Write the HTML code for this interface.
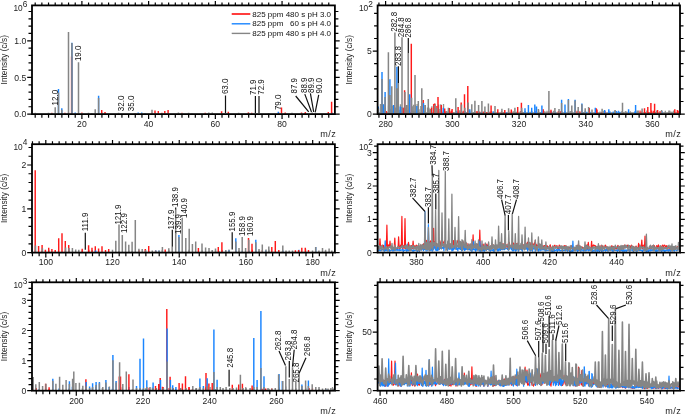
<!DOCTYPE html><html><head><meta charset="utf-8"><style>html,body{margin:0;padding:0;background:#fff;}svg{display:block;will-change:transform}text{font-family:"Liberation Sans", sans-serif;font-size:8.6px;fill:#222}text.pl{font-size:8.5px;fill:#111}text.lg{font-size:8px;fill:#111}</style></head><body>
<svg width="685" height="416" viewBox="0 0 685 416">
<rect width="685" height="416" fill="#fff"/>
<path d="M51.88 113.5V112.84M68.56 113.5V112.54M81.9 113.5V112.44M151.96 113.5V112.8M181.98 113.5V112.7M278.72 113.5V112.18M305.41 113.5V112.01" stroke="#ff1a1a" stroke-width="1.3" fill="none" opacity="0.9"/>
<path d="M58.55 113.5V112.72M332.1 113.5V112.42" stroke="#1a85ff" stroke-width="1.3" fill="none" opacity="0.9"/>
<path d="M35.2 113.5V112.76M101.92 113.5V112.56M105.25 113.5V112.86M155.29 113.5V112.7M191.99 113.5V112.98M228.68 113.5V112.82M248.7 113.5V112.57M312.08 113.5V112.34M315.42 113.5V112.17" stroke="#858585" stroke-width="1.3" fill="none" opacity="0.9"/>
<path d="M64.9 113.5V112.8M71.6 113.5V56.6M101.7 113.5V110.1M105 113.5V112.1M155 113.5V110.6M158.3 113.5V110.9M161.9 113.5V112.7M164.8 113.5V110.9M168.1 113.5V110.1M221.6 113.5V111.3M228.3 113.5V111.8M281.5 113.5V107.4M285.2 113.5V112.5M328.3 113.5V112M331.6 113.5V101.8M205.2 113.5V112.8M248.3 113.5V112.6M251.7 113.5V112.8M301.5 113.5V112.6M304.9 113.5V112.8" stroke="#ff1a1a" stroke-width="1.45" fill="none"/>
<path d="M58.5 113.5V89.1M61.8 113.5V108.2M71.9 113.5V42.8M98.6 113.5V95.8M278.3 113.5V111.8M138.2 113.5V112.5M141.7 113.5V112.5M145 113.5V112.9M75.2 113.5V112.6" stroke="#1a85ff" stroke-width="1.45" fill="none"/>
<path d="M55.2 113.5V107.2M58.5 113.5V92.4M61.8 113.5V109.7M68.5 113.5V32M71.9 113.5V42.9M78.5 113.5V62.3M95.2 113.5V109.2M98.6 113.5V98.1M152 113.5V109.8M178.4 113.5V112.5M208.8 113.5V112.6M212.3 113.5V112.6M48.5 113.5V112.8M51.8 113.5V112.9M88.5 113.5V112.8M91.8 113.5V112.9M118.5 113.5V112.8M135.2 113.5V112.9M188.6 113.5V112.8M238.6 113.5V112.8M268.6 113.5V112.9M292 113.5V112.8" stroke="#858585" stroke-width="1.5" fill="none"/>
<line x1="378.4" x2="679.2" y1="112.6" y2="112.6" stroke="#8a8a8a" stroke-width="1.4" opacity="0.8"/>
<path d="M383.41 113.5V111.89M386.54 113.5V111.12M395.24 113.5V111.27M396.79 113.5V112M418.43 113.5V111.86M423.06 113.5V111.96M434.9 113.5V111.61M440.14 113.5V111.15M445.21 113.5V111.15M449.77 113.5V111.36M451.41 113.5V110.61M461.51 113.5V111.68M463.16 113.5V110.74M476.88 113.5V110.88M478.29 113.5V111.16M479.75 113.5V111.42M483.28 113.5V111.39M486.77 113.5V111.92M490.18 113.5V111.55M501.55 113.5V111.23M508.6 113.5V110.46M511.54 113.5V110.86M535.18 113.5V111.18M548.6 113.5V111.22M558.38 113.5V111.03M560.35 113.5V111.36M577.03 113.5V110.83M579.89 113.5V111.17M601.69 113.5V112.12M605.02 113.5V110.97M640.05 113.5V110.5M641.56 113.5V111.57M644.99 113.5V112.01M648.67 113.5V112.05M651.58 113.5V110.52M653.41 113.5V110.71M660.03 113.5V111.02M678.27 113.5V110.67" stroke="#ff1a1a" stroke-width="1.3" fill="none" opacity="0.9"/>
<path d="M385 113.5V111.45M389.65 113.5V110.37M391.84 113.5V111.02M408.08 113.5V111.63M414.96 113.5V110.69M456.71 113.5V110.78M465.08 113.5V110.89M481.42 113.5V112.08M493.34 113.5V111.3M506.48 113.5V112.2M551.45 113.5V111.26M555.24 113.5V111.58M582.01 113.5V112M585.2 113.5V110.66M586.6 113.5V111.81M590 113.5V111.86M609.95 113.5V111.33M613.24 113.5V111.51M616.63 113.5V111.1M618.52 113.5V110.76M619.86 113.5V111.76M634.86 113.5V111.3M662 113.5V111.06" stroke="#1a85ff" stroke-width="1.3" fill="none" opacity="0.9"/>
<path d="M388.3 113.5V112.1M392.99 113.5V110.75M398.45 113.5V111.75M399.74 113.5V112.13M401.63 113.5V111.18M403.48 113.5V111.25M404.93 113.5V112.01M406.61 113.5V111.68M411.9 113.5V110.89M413.38 113.5V111.28M421.72 113.5V110.41M424.79 113.5V110.77M428.22 113.5V110.36M430.24 113.5V110.46M431.49 113.5V110.34M436.36 113.5V110.59M438.08 113.5V111.71M441.86 113.5V111.74M443.41 113.5V110.73M446.66 113.5V111.05M448.38 113.5V110.79M453.58 113.5V112.17M458.18 113.5V111.65M459.71 113.5V110.31M466.8 113.5V112.13M468.06 113.5V111.4M469.76 113.5V110.64M473.4 113.5V112.05M474.72 113.5V111.01M484.79 113.5V111.05M491.66 113.5V110.98M503.41 113.5V112.05M513.38 113.5V111.13M515.19 113.5V112.1M516.56 113.5V111.66M520.34 113.5V111.07M521.67 113.5V110.58M523.19 113.5V111.98M525.17 113.5V111.07M528.28 113.5V112.13M530.26 113.5V111.75M531.82 113.5V111.07M538.65 113.5V110.33M540.29 113.5V112.02M541.54 113.5V111.76M543.58 113.5V110.66M544.91 113.5V111.13M547.01 113.5V110.69M550.17 113.5V111.22M553.55 113.5V110.63M561.71 113.5V111.03M565.1 113.5V111.22M568.5 113.5V110.88M570.29 113.5V111.05M571.77 113.5V111.04M574.92 113.5V110.89M578.34 113.5V111.02M583.32 113.5V112.07M595.25 113.5V112.1M596.92 113.5V112.08M600.03 113.5V111.57M603.72 113.5V110.65M614.9 113.5V110.48M621.96 113.5V111.12M623.36 113.5V111.91M625.42 113.5V111.05M626.68 113.5V111.48M630.42 113.5V111.32M637.06 113.5V110.54M638.35 113.5V110.45M646.81 113.5V110.56M649.93 113.5V111.96M655.28 113.5V112.02M656.58 113.5V110.61M665.32 113.5V110.84M668.59 113.5V111.63M669.98 113.5V110.68M671.97 113.5V111.49M673.66 113.5V110.39" stroke="#858585" stroke-width="1.3" fill="none" opacity="0.9"/>
<path d="M393.96 113.5V104.94M408.94 113.5V108.41M433.61 113.5V103.97M436.8 113.5V106.05" stroke="#ff1a1a" stroke-width="1.3" fill="none" opacity="0.9"/>
<path d="M378.46 113.5V108.06M401.78 113.5V106.92M423.62 113.5V105.12" stroke="#1a85ff" stroke-width="1.3" fill="none" opacity="0.9"/>
<path d="M380.47 113.5V103.91M381.81 113.5V103.99M383.58 113.5V104.37M385.39 113.5V107.54M388.52 113.5V105.53M390.22 113.5V109.21M392.18 113.5V106.11M395.44 113.5V107.6M396.94 113.5V108.39M399 113.5V109.63M400.42 113.5V104.33M404.12 113.5V107.51M405.55 113.5V107.66M407.14 113.5V110.11M412.29 113.5V106.2M413.52 113.5V104.68M415.29 113.5V104.41M417.12 113.5V104.06M419.12 113.5V109.23M420.81 113.5V106.01M425.11 113.5V105.34M427.53 113.5V107.46M428.98 113.5V107.82M430.81 113.5V108.96M431.86 113.5V106.29M435.11 113.5V103.87M438.65 113.5V104.54M440.8 113.5V104.36M443.53 113.5V104.1" stroke="#858585" stroke-width="1.3" fill="none" opacity="0.9"/>
<path d="M403 113.5V107.8M404.6 113.5V90.3M411.3 113.5V43.7M423.2 113.5V100.1M431.5 113.5V107.8M434.6 113.5V103.4M438 113.5V97M441.3 113.5V105.1M444.7 113.5V108.5M449.4 113.5V108M452.1 113.5V109M458.1 113.5V106.9M461.2 113.5V102.4M464.5 113.5V94.3M467.8 113.5V86M491.1 113.5V105.5M497.8 113.5V109.2M504.8 113.5V110.1M511.3 113.5V109.5M517.7 113.5V107.1M521.4 113.5V102.8M543.2 113.5V109.2M551 113.5V109.8M589.2 113.5V108M596.2 113.5V108.2M597 113.5V109.6M644.5 113.5V108.2M647.8 113.5V107.1M650.9 113.5V103.1M654.6 113.5V103.8M657.6 113.5V110M674.8 113.5V109.2M677.4 113.5V110" stroke="#ff1a1a" stroke-width="1.45" fill="none"/>
<path d="M378.3 113.5V106.5M382 113.5V71.9M383.3 113.5V104.4M385.1 113.5V92.1M389.9 113.5V79.3M393.4 113.5V105.1M396.9 113.5V66.7M400.2 113.5V106.5M409.7 113.5V94.3M416.9 113.5V106M423.5 113.5V103.1M443.3 113.5V107.8M469.8 113.5V109.2M525 113.5V108.2M528.4 113.5V105.1M531.7 113.5V107.8M534.8 113.5V104.4M536.5 113.5V106.5M541.9 113.5V105.5M561.6 113.5V99.7M565 113.5V104.4M568.4 113.5V99.1M575.1 113.5V99.7M581.9 113.5V103.4M595.3 113.5V107.8M604.7 113.5V110M608.8 113.5V109.2M628.6 113.5V109.2M635.6 113.5V105.1" stroke="#1a85ff" stroke-width="1.45" fill="none"/>
<path d="M378.3 113.5V108.5M382 113.5V78.9M385.1 113.5V97M388.4 113.5V52.2M389.9 113.5V95M391.8 113.5V86.3M394.9 113.5V32.6M396.9 113.5V88.3M398.3 113.5V83M402 113.5V37.2M404.9 113.5V92M406.6 113.5V105M408.2 113.5V53.2M411.6 113.5V97.7M415 113.5V75.1M418.3 113.5V101.1M421.8 113.5V88.3M425.2 113.5V105.1M428.3 113.5V99.1M430.2 113.5V109.2M434.9 113.5V105M436.7 113.5V108M440 113.5V109M448.4 113.5V107.8M455.8 113.5V98.3M461.5 113.5V104.4M464.8 113.5V107.8M468.1 113.5V102.4M471.8 113.5V104.2M474.9 113.5V100.8M478.6 113.5V105.1M481.9 113.5V101.1M484.9 113.5V106.5M488.4 113.5V103.5M495 113.5V106.1M501.9 113.5V108.8M508.6 113.5V108.2M514.9 113.5V107.8M521.7 113.5V107.8M538.4 113.5V109M548.9 113.5V91M554.9 113.5V108.1M559 113.5V109M561.6 113.5V103.1M568.4 113.5V100.1M571.8 113.5V105.5M575.1 113.5V100.4M578.2 113.5V106.9M581.9 113.5V104.2M585.2 113.5V108.2M588.6 113.5V106.9M592 113.5V109.5M602.1 113.5V108.8M615.1 113.5V110M622.5 113.5V102.8M642.1 113.5V108.5M661.6 113.5V110M669 113.5V110.5" stroke="#858585" stroke-width="1.5" fill="none"/>
<path d="M42.13 252V250.76M88.83 252V249.83M138.87 252V249.94M155.55 252V250.4M235.62 252V250.71M252.3 252V249.68M262.31 252V249.94" stroke="#ff1a1a" stroke-width="1.3" fill="none" opacity="0.9"/>
<path d="M95.51 252V250.38M158.89 252V250.42M225.61 252V250.39M242.29 252V250.75M248.96 252V250.48M265.64 252V250.13M299 252V249.84" stroke="#1a85ff" stroke-width="1.3" fill="none" opacity="0.9"/>
<path d="M35.46 252V250.05M45.47 252V250.21M48.8 252V249.73M65.48 252V250.39M68.82 252V250.21M82.16 252V250.17M92.17 252V249.95M118.86 252V250.95M128.87 252V250.36M132.2 252V250.98M145.55 252V249.57M148.88 252V250.97M162.23 252V249.97M168.9 252V250.28M188.91 252V249.86M202.26 252V250.37M212.27 252V250.2M215.6 252V250.61M218.94 252V250.94M222.27 252V249.98M228.95 252V249.54M238.95 252V250.55M255.63 252V250.76M258.97 252V250.46M268.98 252V249.73M282.32 252V250.89M305.67 252V249.57M325.69 252V249.76" stroke="#858585" stroke-width="1.3" fill="none" opacity="0.9"/>
<path d="M35.2 252V170.2M38.6 252V245.9M42.1 252V244.9M45.4 252V249.8M48.7 252V247.8M51.9 252V249.1M55.2 252V250.1M58.7 252V238.2M62 252V233.2M65.3 252V241.1M68.7 252V245M82.2 252V248.8M88.6 252V245.2M92 252V247.8M95.3 252V246.2M98.6 252V248.6M102 252V246.2M105.5 252V250.1M108.7 252V249.1M145.3 252V249.1M148.7 252V245.9M165.2 252V249.5M198.4 252V248.1M218.3 252V247M221.9 252V242.2M248.5 252V237.9M252 252V243.8M271.8 252V247M275.3 252V241.1M278.8 252V250M295.4 252V250.2M298.6 252V250M301.8 252V247.8M305.3 252V247.8M308.5 252V250" stroke="#ff1a1a" stroke-width="1.45" fill="none"/>
<path d="M155.7 252V250.5M178.9 252V235M229 252V250.2M235.8 252V238.2M255.8 252V239.8M315.7 252V247M95.6 252V250.5M282.8 252V250.5" stroke="#1a85ff" stroke-width="1.45" fill="none"/>
<path d="M35.5 252V245.5M42.4 252V248.3M65.6 252V247.6M69 252V248M72.4 252V248M75.7 252V249.5M78.8 252V249.8M112.5 252V249.8M115.8 252V240.8M119 252V224.5M122.3 252V235.1M125.6 252V241.4M128.8 252V244.7M132.1 252V241.8M135.3 252V219.9M138.9 252V248.8M142.2 252V249.1M152.3 252V250.5M159.1 252V250.5M162.4 252V246.9M168.8 252V248.2M172.2 252V246.8M175.7 252V209.2M178.9 252V237M182.2 252V218M185.8 252V238M189.2 252V228.8M192.4 252V244M195.7 252V241.6M202 252V243.4M205.6 252V247.6M209 252V248.1M212.3 252V250M215.5 252V248.5M225.8 252V250M235.8 252V241.4M239 252V248.1M242.2 252V236.9M245.6 252V248.1M248.8 252V239.8M255.8 252V242.2M259 252V249.1M262.3 252V244.6M266 252V249.5M268.8 252V246.5M282.8 252V245.4M286 252V250.5M289.2 252V250.5M312.5 252V250.5M315.7 252V247M318.9 252V250.5M322.5 252V248.1M325.4 252V250.5M329.1 252V248.6M331.8 252V250.5M145.6 252V250.3M155.7 252V250.6M292.5 252V250.6M229 252V250.6" stroke="#858585" stroke-width="1.5" fill="none"/>
<path d="M35.6 390.1V387.69M48.94 390.1V389.28M122.34 390.1V387.19M149.02 390.1V387.83M155.7 390.1V388.85M159.03 390.1V389.45M162.37 390.1V386.67M169.04 390.1V387.97M182.38 390.1V387.73M185.72 390.1V389.17M189.06 390.1V387.26M192.39 390.1V389.11M205.74 390.1V387.13M252.44 390.1V388.41M262.45 390.1V389.27M309.15 390.1V387.96M312.49 390.1V388.36" stroke="#ff1a1a" stroke-width="1.3" fill="none" opacity="0.9"/>
<path d="M38.94 390.1V389.25M58.95 390.1V388.38M72.3 390.1V386.77M108.99 390.1V387.11M112.33 390.1V388.74M129.01 390.1V387.03M142.35 390.1V389.4M325.83 390.1V389.01" stroke="#1a85ff" stroke-width="1.3" fill="none" opacity="0.9"/>
<path d="M45.61 390.1V387.33M68.96 390.1V388.52M82.3 390.1V388.22M92.31 390.1V387.79M95.65 390.1V386.63M102.32 390.1V387.91M132.34 390.1V389.19M145.69 390.1V388.36M152.36 390.1V387.49M175.71 390.1V388.82M195.73 390.1V388.2M199.06 390.1V388.46M215.74 390.1V388.9M232.42 390.1V389.37M245.77 390.1V386.88M269.12 390.1V388.85M279.13 390.1V387.49M285.8 390.1V386.58M292.47 390.1V388.32M295.81 390.1V388.07M305.82 390.1V387.64M319.16 390.1V388.83M332.5 390.1V387.03" stroke="#858585" stroke-width="1.3" fill="none" opacity="0.9"/>
<path d="M45.6 390.1V383.8M49.1 390.1V387.3M85.9 390.1V379.2M119.3 390.1V376.5M120.5 390.1V376.5M128.9 390.1V374.2M155.5 390.1V385.9M158.7 390.1V384.1M160.2 390.1V377.9M163.1 390.1V387M166.8 390.1V308.9M170.1 390.1V376.8M179.1 390.1V383M182.4 390.1V383.5M185.5 390.1V376.3M189 390.1V387M206 390.1V373M208.9 390.1V383.5M212.2 390.1V383M232.3 390.1V384.7M238.7 390.1V384.5M242.4 390.1V383.8M252.1 390.1V385.6M36.2 390.1V388M261.7 390.1V388.5M265.7 390.1V388.5M271.7 390.1V388.5" stroke="#ff1a1a" stroke-width="1.45" fill="none"/>
<path d="M52.8 390.1V378.8M69.4 390.1V381.2M86.2 390.1V382M89.6 390.1V386.4M92.6 390.1V383.3M96.1 390.1V382M105.9 390.1V380M112.9 390.1V354.9M116.1 390.1V381M136.5 390.1V385.9M140 390.1V358.8M143.5 390.1V338.4M146.8 390.1V380.3M153.1 390.1V382.4M160.5 390.1V380M167.1 390.1V328.6M170.4 390.1V380M172.7 390.1V385.3M175.9 390.1V387M199.9 390.1V378.6M203.4 390.1V386M207.2 390.1V378.3M213.9 390.1V329.5M217.1 390.1V379.8M253.8 390.1V338M257.1 390.1V380M260.9 390.1V311M264 390.1V376.3M279 390.1V374M282.3 390.1V380.9M301.9 390.1V384.6M308.4 390.1V380.6M99.4 390.1V382" stroke="#1a85ff" stroke-width="1.45" fill="none"/>
<path d="M33.2 390.1V377M35.8 390.1V384.2M39.3 390.1V382M42.6 390.1V386.1M45.9 390.1V383.8M52.8 390.1V380.8M55.9 390.1V383.8M59.6 390.1V376.7M62.8 390.1V384.8M66.1 390.1V380M69.4 390.1V384M72.6 390.1V378.8M73.8 390.1V371.4M75.9 390.1V383M79.4 390.1V382.7M82.8 390.1V385.8M99.4 390.1V383.3M102.8 390.1V387M105.9 390.1V382.4M109.4 390.1V386.5M112.9 390.1V360.2M116.1 390.1V382.4M119.6 390.1V362.3M122.8 390.1V384.1M126.3 390.1V371.6M133 390.1V379.5M150 390.1V387M167.1 390.1V361.5M192.8 390.1V385.9M199.9 390.1V387M213.9 390.1V372.1M220.3 390.1V387M226.1 390.1V387M240.4 390.1V374.8M246 390.1V388M250.1 390.1V388M260.9 390.1V368M278.6 390.1V374.6M282.8 390.1V381M285.8 390.1V366.2M289.3 390.1V378.9M292.5 390.1V367.2M295.8 390.1V380.6M299.1 390.1V373.2M305.6 390.1V380.6M312.2 390.1V384.3M315.8 390.1V387M319 390.1V387M325.7 390.1V388M330.9 390.1V388M86.2 390.1V386M89.6 390.1V388M92.6 390.1V387M96.1 390.1V385M136.5 390.1V388M140 390.1V388M143.5 390.1V388M146.8 390.1V387M153.1 390.1V388M156.4 390.1V388M163.4 390.1V388M170.4 390.1V387M173.2 390.1V388M180.6 390.1V388M186 390.1V388M196.4 390.1V388M203.4 390.1V388M207.2 390.1V386M210 390.1V387M217.1 390.1V387M223 390.1V388M229.8 390.1V388M233 390.1V388M236.5 390.1V387.5M243 390.1V388M253.8 390.1V387M257.1 390.1V387M264 390.1V387M268 390.1V388M272 390.1V388.5M275.3 390.1V388M302 390.1V386M308.4 390.1V386M322.5 390.1V388.5M328 390.1V388.5M333.5 390.1V388.5" stroke="#858585" stroke-width="1.5" fill="none"/>
<path d="M378.4 246.7 L379.23 248.68 L379.44 247.69 L380 238.9 L380.56 247.25 L380.85 245.58 L381.66 247.45 L382.6 245.2 L383.04 247.33 L383.6 245.3 L384.16 247.79 L384.83 248.93 L385.86 247.55 L386.34 247.51 L386.9 225.2 L387.46 248.94 L387.87 245.6 L388.55 244.93 L389.44 247.02 L390 241.1 L390.56 247.55 L391.16 246.9 L392.04 246.72 L392.73 248.99 L393.77 248.33 L394.24 247.14 L394.8 238.1 L395.36 248.26 L395.93 248.02 L396.69 248.36 L397.43 248.82 L398.04 248.53 L398.6 236.9 L399.16 247.28 L399.84 248.92 L400.59 245.11 L401.34 247.03 L401.9 216.4 L402.46 247.86 L402.87 248.85 L403.79 245.3 L404.44 248.13 L405 218.5 L405.56 248.81 L405.7 247.15 L406.48 245.6 L407.39 245.35 L407.94 246.98 L408.5 242.3 L409.06 247.13 L409.71 248.88 L410.65 246.08 L411.64 245.68 L412.39 248.39 L412.54 247.29 L413.1 241.1 L413.66 247.36 L414.29 245.7 L414.97 248.05 L415.69 246.04 L416.29 245.18 L417.13 245.82 L417.98 246.36 L418.75 248.83 L419.55 247.21 L420.52 245.29 L421.16 248.5 L422.11 244.81 L422.76 247.36 L423.77 243.65 L424.79 247.96 L425.64 244.37 L426.14 245.57 L426.7 240.4 L427.26 247.55 L428.17 242.45 L429.12 245.3 L429.82 241.74 L430.73 240.83 L431.4 244.97 L432.37 245.43 L433.04 246.98 L433.6 228.3 L434.16 245.4 L434.41 243.99 L435 241.69 L435.74 245.05 L436.36 243.26 L437.35 248.53 L438.22 246.06 L439.06 241.33 L439.64 240.27 L440.64 246.13 L441.66 240.27 L442.52 244.24 L443.43 242.82 L444.47 240.7 L445.3 246.42 L446.29 246.42 L447.19 246.9 L448.18 243.06 L449.07 247.84 L450.05 243.61 L450.99 247.51 L451.83 245.42 L452.57 245.04 L453.42 240.63 L454.29 248.64 L455.27 246.31 L456.02 246.36 L456.86 243.76 L457.82 240.6 L458.74 240.11 L459.59 244.1 L460.26 246.02 L461.06 245.27 L462.06 242.1 L462.62 242.67 L463.51 242.14 L464.15 248 L465.03 244.51 L466.02 243.93 L466.9 243.31 L467.66 247.57 L468.66 248.13 L469.41 246.45 L470.12 244.07 L470.92 247.99 L471.88 247.3 L472.54 246.67 L473.1 234.9 L473.66 246.93 L474.23 244.63 L474.99 246.88 L475.79 245.22 L476.75 248.8 L477.53 243.99 L478.1 248.23 L478.68 247.37 L479.24 246.74 L479.8 230.2 L480.36 248.27 L481.08 246.08 L481.65 248.02 L482.33 244.5 L482.91 247.01 L483.34 247.16 L483.9 244 L484.46 247.76 L485.58 247.32 L486.24 246.29 L486.88 244 L487.67 247.49 L488.31 245.34 L489.04 247.43 L489.85 247.04 L490.77 245.99 L491.71 248.45 L492.31 248.58 L493.22 244.8 L494 247.15 L495 246.01 L495.83 248.34 L496.77 248.57 L497.55 246.84 L498.21 247.08 L499.16 246.3 L500.07 242.88 L501.06 248.56 L502.09 245.27 L503.03 243.67 L504.03 247.63 L504.75 241.91 L505.53 245.37 L506.45 244.91 L507.03 247.29 L507.62 247.22 L508.26 243.78 L509.2 242.34 L509.83 245.12 L510.74 247.52 L511.63 248.3 L512.43 248.32 L513.03 242.94 L513.84 243.45 L514.75 246.03 L515.56 247.54 L516.39 243.61 L517.13 247.55 L518.12 242.84 L519.09 248.47 L519.9 245.54 L520.56 245.27 L521.36 245.78 L521.94 248.47 L522.74 244.26 L523.69 245.47 L524.48 246.41 L525.08 245.29 L525.83 248.38 L526.84 243.29 L527.62 242.24 L528.24 248.02 L528.8 244 L529.36 246.77 L530.1 242.73 L530.95 248.18 L531.58 247.17 L532.15 243.12 L532.82 246.61 L533.53 244.45 L534.39 242.94 L534.74 246.46 L535.3 240.4 L535.86 248.44 L536.1 244.18 L536.76 245.99 L537.53 245.16 L538.29 246.15 L538.92 244.4 L539.79 246.92 L540.6 248.11 L541.45 248.18 L542.13 247.64 L543.08 248.48 L543.79 245.78 L544.79 245.5 L545.83 248.52 L546.45 245.81 L547.36 245.89 L547.97 248.3 L548.73 248.12 L549.35 246.49 L550.24 244.87 L550.9 247.67 L551.89 248.87 L552.51 246.92 L553.43 246.91 L554.32 245.59 L554.92 245.25 L555.49 247.12 L556.3 247.19 L556.93 245.58 L557.59 248.33 L558.63 248.69 L559.23 245.06 L560.25 246.74 L561.17 246.17 L561.96 246.96 L562.73 247.32 L563.29 247.74 L564.26 245.56 L565.03 247.91 L565.79 245.62 L566.43 246.95 L567 248.55 L567.94 247.76 L568.91 247.44 L569.67 247.32 L570.47 248.93 L571.42 245.88 L572.41 247.93 L573.35 248.22 L574.1 248.57 L575.08 247.72 L576.01 248.01 L576.77 247.84 L577.36 246.24 L578.15 244.84 L578.88 247.48 L579.74 245.77 L580.75 247.6 L581.47 247.57 L582.31 247.04 L583.05 249 L583.92 247.75 L584.85 248.92 L585.42 247.38 L586.33 245.88 L587.08 245.01 L587.74 248.82 L588.3 242.3 L588.86 247.62 L589.34 247.11 L590.14 248.86 L591.04 248.05 L591.6 241.4 L592.16 248.91 L592.44 247.31 L593.36 244.99 L594.37 245.47 L595.16 245.51 L595.95 247.37 L596.54 248.77 L597.3 247.01 L598.15 246.34 L598.85 247.55 L599.68 245.99 L600.58 246.04 L601.15 245.83 L601.73 245.46 L602.65 246.44 L603.64 247.94 L604.23 248.95 L605.24 245.11 L606.23 246.6 L607.02 248.89 L607.7 247 L608.71 247.84 L609.5 248.91 L610.45 247.34 L611.06 247.42 L611.84 245.66 L612.43 247.02 L613.05 246.66 L613.93 246.71 L614.61 247.25 L615.37 248.07 L616.19 248.99 L617.21 247.88 L617.88 245.28 L618.87 248.09 L619.73 246.31 L620.42 247.68 L621.25 247.29 L622.11 247.96 L622.77 245.85 L623.8 248.65 L624.78 244.97 L625.37 245.94 L626.13 247.42 L626.74 247.07 L627.33 245.16 L628.22 247.11 L629.08 246.37 L629.87 245.68 L630.6 247.93 L631.56 245.11 L632.18 248.2 L633.04 248.03 L633.7 246.58 L634.38 248.2 L635.12 247.55 L636.15 246.17 L636.98 247.93 L638.04 247.91 L638.6 243.3 L639.16 247.36 L639.7 245.13 L640.3 247.17 L641.09 247.68 L641.24 247 L641.8 240 L642.36 248.89 L643.27 245.14 L643.97 247.84 L644.44 248.58 L645 236.1 L645.56 247.71 L646.4 246.34 L647.02 247.78 L647.85 248.66 L648.86 248.64 L649.63 248.17 L650.34 246.13 L651.09 248.73 L652.08 245.84 L652.82 246.34 L653.55 246.46 L654.3 245.62 L655.13 248.15 L655.95 248.31 L656.78 245.54 L657.7 248.5 L658.4 244.89 L659.2 247.09 L660.04 248.86 L660.91 248.18 L661.5 247.1 L662.44 245.15 L663.04 247.9 L664.03 245.16 L664.89 245.4 L665.81 247.53 L666.49 245.73 L667.42 246.99 L668.34 246.46 L669.06 248.87 L669.95 246.87 L670.77 247.83 L671.67 248.64 L672.42 248.27 L673.3 248.38 L674.25 248.3 L675.24 248.82 L676.1 247 L677 248.17 L677.77 246.57 L678.4 247.91" stroke="#ff1a1a" stroke-width="1.2" fill="none" stroke-linejoin="round" opacity="1.0"/>
<path d="M378.4 249.77 L378.95 250.96 L379.34 249.02 L379.8 250.32 L380.4 250.12 L380.93 250.78 L381.47 249.24 L381.96 250.14 L382.58 249.1 L383.17 250 L383.73 249.55 L384.2 251.24 L384.64 251.04 L385.2 240.8 L385.76 250.53 L386.19 250.06 L386.67 249.22 L387.11 250.88 L387.51 250.13 L387.88 250.15 L388.47 249.65 L388.95 250.84 L389.44 249.62 L389.8 251.06 L390.44 250.59 L390.99 250.45 L391.45 250.12 L392 250.06 L392.42 249.59 L392.92 251.19 L393.42 249.05 L394.02 250.57 L394.53 249.36 L395.01 250.51 L395.59 249.17 L396.1 250.16 L396.66 249.06 L397.09 250.43 L397.63 249.08 L398.12 250.21 L398.56 249.77 L399.19 250.66 L399.83 249.27 L400.46 250.47 L400.87 250.22 L401.49 249.89 L401.92 250.25 L402.37 250.27 L402.72 249.07 L403.26 251.47 L403.91 249.82 L404.27 250.4 L404.85 250.35 L405.4 250.25 L405.9 249.78 L406.44 250.3 L406.74 251.24 L407.3 244 L407.86 250.58 L408.09 249.45 L408.72 250.71 L409.28 250.15 L409.69 250.34 L410.12 250.11 L410.68 250.09 L411.29 249.68 L411.72 250.58 L412.36 249.91 L412.9 251.37 L413.54 250.24 L414.01 250.83 L414.63 250.28 L415.15 250.44 L415.62 250.2 L416.13 249.9 L416.7 250.47 L417.29 251.33 L417.91 249.87 L418.5 250.49 L418.88 249.57 L419.32 251.39 L419.88 249.88 L420.41 249.92 L420.92 249.8 L421.39 249.81 L421.86 248.56 L422.42 249.19 L422.8 248.05 L423.36 250.65 L423.9 249.43 L424.44 249.54 L425 211.5 L425.56 249.65 L425.72 246.24 L426.16 251.01 L426.52 246.31 L426.95 247.74 L427.43 245.45 L427.84 250.69 L428.4 224.5 L428.96 248 L429.1 249.48 L429.71 245.56 L430.19 250.56 L430.79 245.44 L431.31 250.15 L431.77 247.39 L432.32 251.08 L432.84 247.42 L433.29 250.02 L433.74 246.61 L434.2 248.14 L434.59 245.39 L435.1 247.89 L435.44 250.22 L436 246.5 L436.56 250.48 L437.04 250.74 L437.49 244.91 L438.03 250.5 L438.57 247.83 L439.04 249.49 L439.47 246.14 L439.93 248.45 L440.4 247.92 L440.8 247.64 L441.23 248.65 L441.74 246.95 L442.34 248.21 L442.93 248.31 L443.5 245.64 L443.89 250.59 L444.49 245.2 L445.11 246.79 L445.55 244.29 L445.95 247.41 L446.44 247.84 L447 247 L447.56 250.72 L447.9 247.12 L448.46 246.64 L448.94 249.05 L449.49 247.83 L449.99 249.54 L450.48 247.06 L450.94 248.52 L451.45 247.43 L451.88 250.86 L452.38 248.06 L452.94 251 L453.49 246.09 L453.96 249.39 L454.54 247.98 L454.93 246.87 L455.31 244.48 L455.68 246.62 L456.1 244.61 L456.66 249.42 L457.3 248.52 L457.87 250.97 L458.23 245.11 L458.86 248.76 L459.27 247.56 L459.75 249.07 L460.19 245.15 L460.57 249.37 L461.2 248.62 L461.78 250.89 L462.24 245.48 L462.87 249.44 L463.42 244.68 L463.84 249.08 L464.44 250.53 L465 246 L465.56 249.83 L466.1 249.46 L466.5 248.14 L467.02 249.2 L467.43 247.62 L467.97 248.66 L468.48 249.64 L469.05 249.29 L469.53 247.57 L470.1 250.47 L470.5 248.9 L471.03 250.34 L471.49 248.33 L471.95 251.39 L472.4 248.84 L472.94 249.79 L473.5 241.5 L474.06 249.88 L474.26 249.94 L474.7 249.79 L475.25 248.66 L475.64 251.23 L476.2 244 L476.76 249.97 L477.1 250.11 L477.65 249.46 L478.13 248.47 L478.73 249.62 L479.24 251.07 L479.8 241 L480.36 249.81 L480.66 251.26 L481.13 248.98 L481.59 250.76 L482.16 248.5 L482.67 250.79 L483.17 249.47 L483.71 250.77 L484.16 248.71 L484.52 251.16 L485.11 248.92 L485.44 250.16 L486 245 L486.56 249.84 L487.05 249.03 L487.41 249.41 L487.8 248.83 L488.2 249.57 L488.8 249.01 L489.29 250.58 L489.92 248.56 L490.34 251.12 L490.96 250.18 L491.47 250.14 L491.88 250.15 L492.46 250.52 L493.05 248.9 L493.56 251.22 L493.94 249.62 L494.34 251.09 L494.95 249.69 L495.43 249.54 L495.93 249.17 L496.4 249.48 L497.02 248.96 L497.54 250.92 L498.16 248.46 L498.67 250.79 L499.13 249.13 L499.44 250.26 L500 247 L500.56 250.31 L501.12 248.46 L501.69 249.44 L502.28 248.01 L502.89 249.9 L503.35 246.56 L503.72 247.95 L504.08 249.11 L504.48 249.73 L504.87 249.08 L505.38 248.15 L505.97 248.69 L506.62 248.32 L507.09 247.95 L507.52 249.6 L508.08 248.28 L508.68 250.28 L509.12 248.3 L509.6 248.12 L509.95 247.81 L510.41 247.84 L510.91 247.04 L511.35 249.59 L511.87 247.46 L512.51 250.85 L512.95 248.73 L513.4 250.97 L513.76 246.68 L514.39 249.95 L514.95 246.26 L515.34 251.05 L515.71 246.15 L516.19 250.53 L516.74 249.2 L517.33 249.12 L517.95 246.67 L518.32 251.05 L518.93 247.95 L519.42 248.25 L519.84 245.75 L520.22 249.27 L520.84 248.95 L521.34 249.99 L521.83 248.38 L522.39 251.14 L523 248.01 L523.52 248.12 L524.02 247.16 L524.41 248.24 L524.89 246.15 L525.42 248.71 L526.07 248.03 L526.57 249.1 L527.04 246.24 L527.68 250.88 L528.23 247.91 L528.62 249.5 L529.02 246.7 L529.55 248.13 L529.97 248.21 L530.46 250.81 L530.86 246.01 L531.49 249.85 L532.05 247.86 L532.44 251.17 L532.94 249.16 L533.34 248.89 L533.85 247.14 L534.46 248.97 L534.83 247.06 L535.26 251.14 L535.88 248.75 L536.35 248.56 L536.95 247.37 L537.36 249.79 L537.97 247.73 L538.34 251.11 L538.69 249.29 L539.09 249.6 L539.5 248.66 L540.12 251.01 L540.64 248.03 L541.04 249.81 L541.63 250.05 L541.98 250 L542.62 248.57 L543 249.96 L543.61 248.99 L544.18 249.83 L544.73 249.02 L545.26 251.04 L545.87 249.69 L546.51 250.54 L547.15 250.49 L547.8 250.05 L548.23 250.13 L548.85 250.29 L549.43 249.78 L549.78 250.01 L550.13 249.37 L550.76 250.98 L551.37 250.49 L551.84 251.01 L552.38 250.12 L552.76 251.32 L553.16 249.72 L553.71 251.09 L554.31 249.51 L554.75 251.06 L555.12 250.42 L555.56 250.51 L556 250.16 L556.41 250.1 L556.78 249.21 L557.31 251.48 L557.66 249.75 L558.12 250.38 L558.57 249.18 L559.05 250.31 L559.42 249.22 L560.05 251.04 L560.69 250.32 L561.26 250.24 L561.65 250.6 L562.2 251.05 L562.6 250.29 L563.11 250.02 L563.52 250.57 L564.06 250.02 L564.43 250.22 L564.89 250.65 L565.28 249.29 L565.78 250.57 L566.18 249.24 L566.67 250.06 L567.03 249.77 L567.4 251.07 L567.98 250.15 L568.62 250.14 L569.09 249.67 L569.46 251.27 L569.83 250.6 L570.38 251.48 L570.75 250.45 L571.39 251.14 L571.91 250.05 L572.34 251.46 L572.9 241.1 L573.46 250.94 L573.93 250.53 L574.51 250.41 L575.07 249.38 L575.57 250.73 L576.14 249.12 L576.53 250.17 L577.07 249.28 L577.58 251.31 L578.06 249.36 L578.59 250.54 L579.07 249.29 L579.63 250.44 L580.27 249.81 L580.83 251.38 L581.47 249.03 L582.1 250.04 L582.74 250.28 L583.16 251.04 L583.68 249.73 L584.22 250.62 L584.77 250.13 L585.12 250.91 L585.68 250.41 L586.19 250.75 L586.58 249.32 L587.2 249.98 L587.82 249.2 L588.29 250.89 L588.65 249.73 L589.24 250.5 L589.64 249.1 L590.27 250.04 L590.82 250.04 L591.26 250.78 L591.81 249.34 L592.24 251.38 L592.65 249.79 L593.14 251.14 L593.74 250.24 L594.28 250.75 L594.66 249.93 L595.14 251.1 L595.6 249.2 L596.07 251.23 L596.57 250.09 L596.93 250.23 L597.36 249.79 L597.75 251.41 L598.2 249 L598.62 250.69 L599.15 250.32 L599.53 251.45 L600.14 249.84 L600.68 250.37 L601.08 249.02 L601.71 251.32 L602.2 249.98 L602.69 250.99 L603.07 250.23 L603.47 250.84 L604.01 250.38 L604.54 250.16 L605.14 249.61 L605.66 251.18 L606.3 249.17 L606.79 250.39 L607.39 249.65 L608.01 251.16 L608.49 250.24 L609.04 250.07 L609.48 249.22 L610.08 250.52 L610.52 250.17 L611.17 250.1 L611.73 249.37 L612.31 251.09 L612.89 249.95 L613.28 251.26 L613.66 249.94 L614.3 250.31 L614.8 250.1 L615.34 250.4 L615.81 250.46 L616.38 250.16 L616.93 250.38 L617.46 251.33 L617.89 249.47 L618.5 250.29 L618.89 249.24 L619.51 251.21 L619.92 250.21 L620.32 250.88 L620.68 249.94 L621.25 250.7 L621.79 249.19 L622.28 251.15 L622.74 250.21 L623.27 251.19 L623.84 249.5 L624.44 251.2 L624.92 250.17 L625.39 250.81 L625.84 249.75 L626.28 251.33 L626.81 250 L627.32 250.63 L627.72 250.05 L628.21 250.43 L628.71 249.21 L629.26 251.15 L629.72 249.26 L630.36 250.88 L630.8 249.15 L631.32 250.23 L631.94 250.16 L632.38 250.54 L632.75 249.36 L633.27 251.31 L633.75 250.56 L634.17 250.04 L634.78 249.61 L635.21 250.6 L635.74 249.36 L636.13 250.85 L636.67 249.91 L637.07 251.27 L637.55 249.88 L638.17 250.09 L638.66 249.69 L639.21 250.24 L639.63 249.37 L640.15 250.36 L640.77 250.42 L641.34 250.54 L641.94 249.93 L642.52 251.43 L642.91 250.24 L643.53 250.53 L643.98 249.05 L644.6 250.21 L644.96 249.14 L645.46 250.98 L646.08 250.08 L646.46 251.39 L647.07 250.31 L647.69 251.23 L648.25 250.25 L648.61 251.48 L648.96 249.69 L649.48 250.7 L649.93 249.83 L650.37 250.95 L650.73 249.56 L651.28 250.62 L651.63 249.75 L652.26 250.72 L652.83 249.62 L653.48 250.73 L654.07 250.02 L654.66 250.51 L655.29 250.61 L655.91 251.35 L656.37 249.55 L656.99 251.22 L657.52 249.91 L657.87 250.78 L658.24 249.86 L658.65 250.86 L659.05 249.53 L659.63 250.82 L660.02 250.6 L660.38 250.55 L660.94 249.94 L661.49 251.34 L661.87 249.83 L662.29 250.85 L662.78 250.02 L663.37 250.69 L663.85 249.9 L664.25 251.36 L664.72 249.81 L665.32 251.23 L665.97 250.15 L666.48 250.57 L667.06 250.01 L667.41 250.79 L667.96 249.58 L668.56 251.08 L669.18 249.47 L669.73 250.79 L670.18 249.48 L670.56 251.23 L670.99 249.56 L671.42 250.78 L671.91 250.41 L672.29 250.43 L672.89 250.29 L673.26 250.6 L673.91 250.59 L674.35 251.08 L674.8 249.11 L675.42 250.08 L676.07 249.73 L676.67 250.65 L677.29 250.21 L677.69 249.91 L678.1 249.99 L678.48 249.99 L678.94 249.09" stroke="#1a85ff" stroke-width="1.2" fill="none" stroke-linejoin="round" opacity="1.0"/>
<path d="M378.4 245.99 L378.96 249.69 L379.56 245.71 L379.98 247.63 L380.4 247.81 L380.79 249.1 L381.2 246.13 L381.68 250.28 L382.21 245.06 L382.65 247.63 L383.26 248.11 L383.85 250.23 L384.42 248.64 L385.01 248.05 L385.61 246.87 L386.19 249.23 L386.67 246.4 L387.15 248.27 L387.53 248.14 L388.12 250.85 L388.68 247.13 L389.26 247.58 L389.81 246.7 L390.21 247.84 L390.72 245.97 L391.21 249.39 L391.44 249.93 L392 243.5 L392.56 248.81 L393.05 247.35 L393.6 248.66 L394.07 249.82 L394.7 245.17 L395.09 250.16 L395.69 247.45 L396.09 248.65 L396.7 248.4 L397.29 247.84 L397.89 246.44 L398.46 247.59 L399.1 247.31 L399.67 247.88 L400.2 247.23 L400.73 248.44 L401.3 246.31 L401.74 247.7 L402.29 245.43 L402.71 247.33 L403.25 247.13 L403.77 247.21 L404.25 246.32 L404.63 247.08 L405.28 245.47 L405.72 248.1 L406.24 245.3 L406.74 248.47 L407.34 245.02 L407.79 248.97 L408.43 246.98 L408.92 249.63 L409.36 245.12 L409.86 250.56 L410.43 245.99 L410.99 250.32 L411.41 247.26 L411.87 248 L412.31 245.78 L412.76 247.21 L413.23 245.33 L413.81 249.37 L414.16 247.97 L414.57 248.91 L415.08 246.28 L415.52 248.73 L415.91 248.31 L416.29 250.22 L416.71 246.16 L417.18 247.19 L417.56 246.38 L418.05 250.43 L418.24 249.58 L418.8 243.5 L419.36 250.87 L419.8 246.24 L420.41 249.07 L420.8 244.51 L421.23 250.28 L421.62 246.1 L422.08 247.77 L422.67 244.32 L423.24 249.06 L423.87 245.29 L424.44 248.47 L425 212.5 L425.56 249.56 L426 241.99 L426.51 249.42 L427.02 242.47 L427.66 245.99 L427.84 249.96 L428.4 227.5 L428.96 247.41 L429.39 250.6 L429.98 243.25 L430.52 249.5 L431.08 242.36 L431.74 247.8 L432.3 175 L432.86 249.94 L433.18 243.39 L433.53 244.17 L433.96 242.6 L434.59 245.61 L435.04 245.72 L435.6 210.3 L436.16 248.57 L436.68 247.01 L437.3 243.93 L437.71 246.44 L438.24 245.99 L438.8 170.5 L439.36 249.6 L439.7 247.85 L440.14 246.23 L440.64 247.4 L441.24 241.73 L441.44 248.93 L442 213 L442.56 245.81 L443.04 245.91 L443.44 244.24 L443.94 246.48 L444.37 247.15 L444.74 245.65 L445.3 171.3 L445.86 250.29 L446.34 245.34 L446.71 244.95 L447.19 250.02 L447.76 240.88 L448.24 246.99 L448.8 218.9 L449.36 248.42 L449.53 248.71 L450.08 244.17 L450.51 244.72 L451.08 244.21 L451.34 248.41 L451.9 194.2 L452.46 247.37 L453.03 245.67 L453.53 247.68 L454 246.47 L454.44 245.87 L455 227.5 L455.56 249.15 L456.02 240.62 L456.51 246.59 L457.11 245.44 L457.75 246.82 L458.04 247.09 L458.6 216.6 L459.16 247.58 L459.66 245.79 L460.31 241.45 L460.94 245.75 L461.44 249.55 L462 239.7 L462.56 250.27 L462.98 240.53 L463.54 244.48 L463.95 244.45 L464.64 247.37 L465.2 230.3 L465.76 247.59 L466.12 242.11 L466.65 248 L467.16 246.56 L467.56 249.15 L467.74 249.86 L468.3 243.9 L468.86 248.56 L469.61 247.3 L470.17 243.97 L470.72 246.83 L471.34 250.41 L471.9 239.7 L472.46 248.53 L472.93 246.9 L473.45 248.1 L474.02 244.74 L474.54 247.44 L475.1 241 L475.66 248.26 L476.27 248.15 L476.66 243.76 L477.17 247.35 L477.56 247.92 L477.94 250.45 L478.5 240 L479.06 249.33 L479.39 246.7 L480.03 249.89 L480.56 247.36 L481.05 248.8 L481.44 250.71 L482 241 L482.56 250.19 L483.18 247.65 L483.69 245.79 L484.29 249.02 L484.74 249.73 L485.3 243 L485.86 248.05 L486.44 250.33 L486.96 246.55 L487.37 247.53 L487.85 246.33 L488.04 248.88 L488.6 242 L489.16 247.57 L489.41 250.15 L489.81 247.54 L490.29 248.97 L490.65 246 L491.24 249.68 L491.44 248.65 L492 236.9 L492.56 248.28 L493.14 248.31 L493.75 244.96 L494.39 247.02 L494.94 250.6 L495.5 239.8 L496.06 248.13 L496.39 249.92 L496.93 244.88 L497.31 248.01 L498.04 248.01 L498.6 226.1 L499.16 246.7 L499.6 247.75 L500.24 242.37 L500.83 248.95 L501.04 246.75 L501.6 233.7 L502.16 249.22 L502.76 248.26 L503.19 244.27 L503.57 248.95 L503.94 244.62 L504.34 248.02 L504.54 247.89 L505.1 215.3 L505.66 248.35 L505.86 245.51 L506.51 245.53 L507.05 245.26 L507.45 245.51 L507.88 244.6 L508.24 249.78 L508.8 230.8 L509.36 249.22 L509.55 247.72 L509.95 245.16 L510.38 246.51 L510.86 245.94 L511.24 247.3 L511.64 247.02 L512.2 213.9 L512.76 249.45 L513.24 246.32 L513.75 246.27 L514.28 244.69 L514.74 249.16 L515.3 233.7 L515.86 248.73 L516.26 245.5 L516.87 244.11 L517.24 249.95 L517.62 243.66 L518.04 248.33 L518.6 216.5 L519.16 250.21 L519.79 245.73 L520.28 248.92 L520.92 243.51 L521.44 248.78 L522 234.9 L522.56 246.33 L522.71 249.85 L523.24 247.12 L523.64 248.08 L524.01 244.95 L524.54 249.87 L525.1 227.1 L525.66 249.05 L526.09 243.77 L526.46 246.49 L527.1 244.29 L527.65 247.21 L527.94 247.26 L528.5 238 L529.06 249.57 L529.33 250.28 L529.68 242.48 L530.13 249.41 L530.7 245.98 L531.24 250.33 L531.8 232.9 L532.36 249.47 L532.51 246.35 L533.07 246.51 L533.68 245.1 L534.09 245.81 L534.74 248.6 L535.3 240 L535.86 250.01 L536.37 248.84 L536.72 246.69 L537.13 250.47 L537.84 247.35 L538.4 236.9 L538.96 247.24 L539.21 247.44 L539.72 243.93 L540.2 249.18 L540.81 244.42 L541.24 248.81 L541.8 240 L542.36 249.2 L542.79 245.99 L543.19 248.81 L543.58 247.3 L544.22 248.7 L544.7 246.31 L545.16 248.57 L545.34 249.84 L545.9 242 L546.46 249.89 L547.09 248.42 L547.69 247.37 L548.23 248.43 L548.75 246.59 L549.26 250.69 L549.64 245.82 L550.26 250.62 L550.85 248.3 L551.23 249.82 L551.62 248.25 L552.09 248.94 L552.6 245.79 L553.12 250.37 L553.6 246.68 L554.06 247.8 L554.5 248.21 L555.14 248.5 L555.57 246.29 L556.18 248.07 L556.59 246.21 L556.96 247.63 L557.38 247.5 L558.01 248.06 L558.45 247.25 L558.81 247.41 L559.33 246.78 L559.78 248.66 L560.14 246 L560.54 247.98 L560.91 248.13 L561.27 248.65 L561.67 245.78 L562.25 250.75 L562.89 246.27 L563.4 248.72 L563.77 246.62 L564.31 248.59 L564.89 246.71 L565.33 250.5 L565.85 245.98 L566.47 248.9 L567.01 246.8 L567.61 249.87 L568.1 246.4 L568.68 250.28 L569.21 248.35 L569.72 248.66 L570.16 246.03 L570.56 250.61 L571.07 245.32 L571.49 248.69 L572.08 248.28 L572.66 248.19 L573.13 248.63 L573.6 249.56 L573.96 246.84 L574.47 250.55 L575.1 247.89 L575.55 250.41 L576.18 245.29 L576.66 249.18 L577.1 245.92 L577.68 247.87 L578.04 249.48 L578.6 240.8 L579.16 249.05 L579.66 250.57 L580.16 246.13 L580.6 249.88 L581.12 246.71 L581.68 247.45 L582.15 248.37 L582.77 248.93 L583.36 248.39 L583.86 247.61 L584.24 247.57 L584.44 250.11 L585 241.8 L585.56 249.6 L586.03 246.37 L586.44 249.22 L586.89 245.29 L587.29 247.22 L587.91 245.78 L588.54 249.44 L589.18 246.8 L589.6 247.39 L590.14 247.67 L590.69 250.55 L591.07 247.47 L591.63 250.68 L592.06 248.57 L592.42 249.32 L592.86 246.99 L593.27 248.54 L593.72 246.78 L594.19 247.9 L594.59 246.79 L595.24 250.32 L595.64 247.43 L596.03 248.31 L596.68 246.3 L597.06 249.22 L597.59 246.96 L597.84 248.56 L598.4 243.7 L598.96 249.65 L599.2 249.92 L599.7 246.5 L600.13 250.31 L600.78 247.24 L601.34 248.31 L601.74 245.22 L602.27 250.58 L602.83 247.58 L603.44 248.65 L603.92 246 L604.52 249.71 L605.02 247.99 L605.65 247.24 L606.06 246.79 L606.63 247.99 L607.11 247.54 L607.55 249.63 L607.92 246.58 L608.46 250.38 L608.96 247.55 L609.51 249.55 L610 246.22 L610.38 250.47 L610.97 247.5 L611.54 248.27 L611.95 247.04 L612.44 249.55 L613.05 246.5 L613.51 249.77 L614.12 247.17 L614.65 250.48 L615.28 245.17 L615.92 247.43 L616.44 246.92 L617.08 247.96 L617.44 248.68 L617.93 248.82 L618.41 246.06 L618.77 249.2 L619.18 246.92 L619.83 250.84 L620.27 246.28 L620.66 249.39 L621.06 245.48 L621.69 249.21 L622.31 245.82 L622.71 249.28 L623.27 245.68 L623.77 249.22 L624.27 246.21 L624.75 247.49 L625.13 245.23 L625.73 248.02 L626.28 245.44 L626.9 247.17 L627.49 247.04 L628.11 250.48 L628.47 245.19 L628.89 247.23 L629.5 245.55 L630.05 250.69 L630.61 248.82 L631.16 248.56 L631.8 245.83 L632.32 248.66 L632.83 246.14 L633.47 250.87 L634.03 246.91 L634.66 250.7 L635.03 248.39 L635.41 247.42 L635.84 246.42 L636.33 250.72 L636.73 247.48 L637.23 247.55 L637.87 248.51 L638.33 250.4 L638.81 247.58 L639.44 249.52 L639.9 245.2 L640.39 249.28 L640.82 247.21 L641.18 248.03 L641.67 246.85 L642.23 247.95 L642.67 247.81 L643.1 247.64 L643.64 246.34 L644.17 250.78 L644.81 248.03 L645.45 250.11 L645.84 249.3 L646.4 234.2 L646.96 250.29 L647.33 249.16 L647.74 247.85 L648.12 248.94 L648.55 248.6 L648.94 248.52 L649.51 246.16 L650.1 247.5 L650.48 245.05 L650.99 248.9 L651.5 246.81 L652.12 247.89 L652.51 245.95 L653.11 250.18 L653.49 245 L654.14 250.78 L654.57 247.04 L654.94 249.02 L655.34 247.62 L655.74 249.23 L656.19 246.85 L656.82 249.07 L657.46 247.76 L657.88 248.03 L658.48 247.98 L658.87 250.17 L659.31 247.18 L659.93 250.59 L660.33 245.55 L660.76 249.39 L661.4 247.51 L661.98 250.22 L662.47 246.44 L663.06 249.45 L663.67 248.82 L664.16 248.39 L664.55 247.24 L665 248.27 L665.5 247.79 L666.05 248.83 L666.6 247.41 L667.22 249.68 L667.83 245.92 L668.43 247.09 L669.03 245.06 L669.56 248.12 L669.96 247.85 L670.35 249.67 L670.72 245.8 L671.19 249.25 L671.44 250.02 L672 244 L672.56 250.86 L672.76 246.51 L673.29 249.57 L673.91 246.34 L674.45 249.71 L674.85 246.41 L675.33 249.37 L675.84 245.53 L676.25 248.32 L676.63 247.96 L677.25 249.88 L677.66 247.25 L677.94 250.2 L678.5 242.3 L679.06 249.46" stroke="#858585" stroke-width="1.3" fill="none" stroke-linejoin="round" opacity="1.0"/>
<path d="M378.4 379.79 L379.29 383.46 L380.08 380.21 L381.02 384.81 L381.83 382.47 L382.5 378.58 L383.24 383.1 L383.83 384.71 L384.5 380.38 L385.08 386.29 L386 385.35 L386.85 378.87 L387.57 382.45 L388.19 385.95 L388.92 379.82 L389.88 379.6 L390.88 382.13 L391.04 383.69 L391.6 361 L392.16 383.5 L392.5 380.11 L393.08 385.3 L393.75 384.65 L394.44 383.86 L395 361 L395.56 384.57 L396.33 383.14 L397.24 379.67 L398.02 385.02 L398.68 385.75 L399.67 381.87 L400.4 382.19 L401.15 386.3 L401.89 379 L402.5 384.21 L403.53 382.55 L404.33 382.96 L405.25 380.5 L406.1 383.02 L406.96 380.21 L407.6 381.47 L408.61 381.47 L409.45 381.18 L410.06 379.38 L410.84 383.06 L411.4 372.9 L411.96 384.62 L412.64 385.6 L413.66 381.96 L414.69 386.07 L415.54 385.5 L416.33 381.75 L416.94 382.86 L417.5 374.1 L418.06 382.97 L418.6 384.7 L419.39 385.17 L419.97 380.91 L420.67 382.11 L421.31 379.54 L422.04 385.63 L423.07 384.51 L423.86 380.91 L424.88 382.91 L425.79 379.29 L426.45 385.2 L427.39 385.52 L428.24 382.21 L429.08 385.29 L429.79 383.01 L430.48 384.71 L431.04 384.11 L432.06 379.33 L432.91 383.82 L433.88 383.4 L434.56 382.11 L435.58 385.72 L436.2 379.9 L436.81 379.4 L437.58 380.24 L438.56 383.93 L439.18 383.1 L439.9 382.79 L440.56 380.45 L441.21 381.97 L442.11 383.2 L442.69 384.35 L443.67 384.8 L444.61 379.37 L445.39 379.78 L446.32 380.58 L447.22 381.14 L448.12 381.57 L448.7 382.11 L449.41 385.72 L450.11 382.92 L450.93 386.06 L451.54 383.62 L452.34 384.56 L453.37 381.6 L454.26 383.11 L455.09 379.89 L456.04 386.27 L456.77 381.68 L457.81 380.23 L458.41 380 L459.36 384.77 L460.13 383.81 L460.7 383.98 L461.47 383.1 L462.22 382.31 L462.89 379.88 L463.74 383.7 L464.3 373.1 L464.86 383.83 L465.46 382.71 L466.14 382.23 L466.93 383.92 L467.95 380.19 L468.74 382.98 L469.65 385.7 L470.58 383.91 L471.34 384.22 L471.9 366.8 L472.46 384.04 L473.36 381.34 L474.36 382.3 L475.22 385.27 L476.24 386.39 L476.81 381.82 L477.52 382.36 L478.15 383.46 L478.74 381.77 L479.76 384.74 L480.54 380.49 L481.56 384.49 L482.22 382.02 L483.08 384.35 L483.77 386.15 L484.48 381.5 L485.45 380.84 L486.34 381.16 L487.18 381.68 L487.93 386.09 L488.71 382.75 L489.57 381.73 L490.21 382.42 L490.9 381.13 L491.92 380.13 L492.87 386.06 L493.64 385.96 L494.2 376 L494.76 385.37 L495.42 384.53 L496.1 380 L496.92 380.58 L497.63 382.93 L498.62 382.39 L499.24 385.14 L500.19 383.41 L500.78 381.05 L501.53 383.38 L502.2 385.05 L503.16 385.87 L504.15 379.03 L504.99 379.29 L505.98 384.33 L506.9 379.69 L507.49 384.77 L508.34 383.05 L509.13 384.52 L509.85 379.76 L510.58 379.87 L511.44 385.18 L512.04 377.43 L512.84 383.07 L513.49 379.03 L514.08 376.61 L514.88 382.89 L515.75 377.43 L516.36 385.38 L517.18 379.78 L518.07 383.13 L518.89 375.84 L519.84 377.14 L520.42 378.62 L521.24 381.73 L521.88 382.63 L522.68 375.92 L523.65 383.7 L524.54 384.09 L525.1 367 L525.66 381.72 L526.3 379.98 L526.44 382.6 L527 370 L527.56 384.58 L528.04 385.31 L529.05 383.25 L529.62 377.03 L530.47 380.58 L531.39 381.16 L532.03 385.14 L532.85 384.47 L533.51 386.09 L534.34 383.03 L535.25 384.52 L535.98 373.58 L536.74 374.93 L537.56 383.63 L538.29 374.39 L538.86 378.37 L539.7 373.08 L540.58 375.61 L541.19 385.19 L542.01 384.77 L542.81 374.58 L543.49 378.59 L544.35 383.17 L545.28 381.63 L545.96 378.78 L546.7 379.58 L547.39 380.23 L548.17 373.82 L549.12 380.92 L550.07 382.86 L550.98 386.12 L551.72 378.58 L552.28 382 L553.12 380.93 L554.16 376.26 L554.83 382.94 L555.78 379.87 L556.36 378.52 L557.32 380.14 L558.1 378.83 L558.96 381.4 L559.86 384.63 L560.78 378.79 L561.46 383.66 L562.4 385.41 L563.05 384.47 L564.04 375.46 L564.75 382 L565.38 384.31 L566.07 382.6 L566.77 377.27 L567.43 380.52 L568.33 377.36 L569.22 378.75 L570.09 379.18 L570.74 376.76 L571.33 383.01 L572.09 376.86 L573.07 382.74 L573.64 383.55 L574.49 380.72 L575.29 386.13 L576.03 382.89 L576.89 380.33 L577.62 384.23 L577.94 384.81 L578.5 367 L579.06 385.43 L579.29 379.41 L580.23 377.74 L581.1 381.86 L581.24 384.72 L581.8 370.7 L582.36 385.68 L582.6 378.9 L583.4 379.75 L584.34 381.3 L585.06 380.52 L585.64 380.41 L586.28 383.99 L587.24 381.01 L587.86 383.5 L588.47 382.63 L589.4 381.32 L590.29 383.86 L590.89 381.87 L591.74 381.01 L592.4 384.37 L593.35 384.11 L594.23 380.9 L594.94 383.02 L595.93 383.41 L596.87 381.58 L597.67 386.86 L598.6 385.1 L599.25 387.17 L599.85 387.43 L600.78 386.13 L601.59 383.2 L602.32 385.98 L603.19 384.65 L604.14 383.1 L604.83 383.41 L605.55 386.9 L606.47 383.83 L607.18 383.69 L608.06 385.31 L608.73 385.02 L609.7 385.31 L610.6 386.28 L611.38 385.99 L612.12 384.4 L612.92 384.93 L613.63 384.44 L614.63 385.55 L615.29 383.87 L615.95 387.52 L616.67 386.68 L617.34 386.63 L618.12 387.02 L618.93 385.55 L619.63 386.48 L620.59 386.92 L621.38 385.49 L622.37 387.59 L623 386.95 L623.93 386.97 L624.95 387.78 L625.63 388.24 L626.34 385.95 L627.37 385.21 L628.12 386.93 L628.81 385.66 L629.75 386.95 L630.67 387.6 L631.65 387.99 L632.61 388.3 L633.41 387.38 L634.21 388.3 L635.09 386.56 L635.96 386.16 L636.59 386.49 L637.21 385.31 L637.82 386.76 L638.74 385.56 L639.61 385.81 L640.41 386.4 L641.19 387.65 L641.95 386.71 L642.86 385.91 L643.58 387.66 L644.54 388.49 L645.23 387.46 L645.94 387.69 L646.9 386.06 L647.63 388.39 L648.36 387.53 L649.31 386.53 L650.25 385.77 L650.97 386.25 L651.7 386.39 L652.27 388.07 L652.91 387.43 L653.74 388.22 L654.71 387.6 L655.35 387.99 L655.95 388.46 L656.66 386.61 L657.33 387.02 L658.27 388.29 L659.18 387.96 L659.86 386.86 L660.57 387.18 L661.55 388.7 L662.15 388.63 L663.15 387.3 L664.04 388.17 L664.69 387.74 L665.72 388.44 L666.72 386.39 L667.62 387.45 L668.62 386.64 L669.44 386.54 L670.39 388.1 L670.96 387.06 L671.59 387.9 L672.45 386.47 L673.47 388.75 L674.24 387.78 L674.97 387.87 L675.73 387.48 L676.65 386.87 L677.35 388.3 L678.02 386.62 L679.01 386.86" stroke="#ff1a1a" stroke-width="1.2" fill="none" stroke-linejoin="round" opacity="1.0"/>
<path d="M378.4 383.48 L378.79 381.43 L379.44 379.47 L379.83 384.69 L380.28 383.14 L380.7 386.29 L381.15 381.65 L381.78 384.88 L382.4 382.21 L382.77 385.89 L383.3 380.17 L383.7 385.73 L384.23 383.41 L384.81 386.31 L385.33 382.19 L385.86 382.7 L386.5 380.21 L387.08 386.28 L387.63 379.35 L388.14 386.04 L388.7 358.9 L389.26 384.67 L389.77 381.24 L390.27 383.5 L390.82 383.34 L391.27 383.32 L391.79 380.19 L392.32 384.19 L392.8 382.11 L393.31 381.88 L393.96 380.51 L394.44 383.49 L394.94 382.96 L395.5 363 L396.06 385.06 L396.35 384.23 L396.8 380.4 L397.26 382.43 L397.62 381.45 L398.21 384.75 L398.62 382.26 L398.99 383.56 L399.58 383.42 L400.07 385.76 L400.57 381.42 L401.1 386.49 L401.67 381.17 L402.24 384.74 L402.7 382.75 L403.29 384.57 L403.92 378.91 L404.42 384.71 L404.88 379.69 L405.43 383.71 L405.86 379.05 L406.5 383.31 L406.89 379.94 L407.32 385.88 L407.72 380.25 L408.1 383.9 L408.51 380.59 L409.08 386.18 L409.68 379.08 L410.15 385.8 L410.51 379.91 L411 383.48 L411.58 382.48 L412.07 382.83 L412.49 380.25 L412.86 384.9 L413.25 383.34 L413.8 381.89 L414.3 381.93 L414.66 384.02 L415.02 382.74 L415.37 384.74 L416.02 383.15 L416.44 384.27 L416.83 380.67 L417.44 385.67 L417.79 380.86 L418.33 382.51 L418.92 383.39 L419.44 383.43 L420.04 381.53 L420.45 383.03 L420.85 383.14 L421.35 385.08 L421.64 385.45 L422.2 368 L422.76 386.38 L422.96 382.78 L423.43 384.89 L423.84 379.85 L424.2 383.55 L424.62 381.6 L425.27 382.45 L425.44 385.63 L426 370.3 L426.56 386.19 L426.89 379.21 L427.53 385.06 L428.12 383.12 L428.5 382.06 L428.64 386.26 L429.2 359.5 L429.76 384.08 L430.01 382.15 L430.58 383.36 L431.22 383.7 L431.84 386.31 L432.4 367 L432.96 384.99 L433.25 379.46 L433.87 383.21 L434.23 380.71 L434.61 383.93 L435.06 380.04 L435.56 383.78 L436.01 383.12 L436.45 384.4 L437.07 383.82 L437.53 382 L438.16 381.7 L438.58 382.43 L439 380.73 L439.39 382.06 L440.04 383.18 L440.43 384.13 L441.02 381.68 L441.39 383.46 L441.85 383.64 L442.38 384.03 L442.91 379.53 L443.47 385.7 L444.02 381.02 L444.46 381.92 L444.83 380.05 L445.32 385.56 L445.73 381.57 L446.27 384.86 L446.63 383.69 L447.16 383.32 L447.58 382.61 L448.21 383.49 L448.68 381.99 L449.08 383.82 L449.7 382 L450.3 383.15 L450.91 383.07 L451.33 384.41 L451.88 382.09 L452.42 383.06 L452.93 381.08 L453.52 383.69 L454.16 382.15 L454.58 383.9 L454.97 382.88 L455.34 384.78 L455.78 383.08 L456.17 385.14 L456.73 380.55 L457.12 383.71 L457.66 380.69 L458.02 384.04 L458.44 384.61 L459 372.9 L459.56 384.65 L460.1 384.21 L460.5 379.9 L461 383.19 L461.49 381.61 L462.05 384.69 L462.46 380.37 L463.07 382.26 L463.46 379.87 L464.06 384.53 L464.68 382.45 L465.13 384.03 L465.7 380.64 L466.3 383.93 L466.66 381.17 L467.18 382.74 L467.8 383.84 L468.3 386.21 L468.86 382.08 L469.26 386.43 L469.88 381.69 L470.35 382.43 L470.88 383.54 L471.35 383.41 L471.88 383.26 L472.28 383.39 L472.83 379.85 L473.42 383.55 L474.02 381.74 L474.42 382.21 L474.81 380.87 L475.38 385.73 L475.92 381.09 L476.47 385.45 L476.93 380.08 L477.42 383.15 L477.83 381.49 L478.2 386.2 L478.63 383.78 L479.21 382.22 L479.83 383.39 L480.33 386.15 L480.83 379.88 L481.22 383.58 L481.83 383.49 L482.21 383.76 L482.6 380.81 L483.05 384.05 L483.45 382.74 L483.87 386.18 L484.37 381.73 L484.95 383.75 L485.37 380.37 L485.81 383.27 L486.38 381.41 L486.94 383.46 L487.31 381.2 L487.78 386.28 L488.19 380.79 L488.59 383.37 L489.23 384 L489.65 382.48 L490.14 382.46 L490.54 384.97 L491.1 371.2 L491.66 384.7 L492.26 382.05 L492.75 384.57 L493.14 382.18 L493.56 383.7 L493.92 380.62 L494.29 384.67 L494.71 382.38 L495.21 383.33 L495.6 382.56 L496.15 385.34 L496.65 382.5 L497.01 383.66 L497.6 381.62 L497.98 384.17 L498.58 380.41 L498.97 384.51 L499.58 381.7 L500 385.69 L500.38 381.2 L500.91 386 L501.52 381.09 L501.95 383.68 L502.34 380.66 L502.92 386.52 L503.35 379.46 L503.92 386.43 L504.51 380.89 L505.08 385.33 L505.65 381.07 L506.3 385.36 L506.72 380.53 L507.1 383.09 L507.7 380.65 L508.2 385.24 L508.58 379.73 L509.07 383.54 L509.63 382.92 L510.22 383.72 L510.77 380.38 L511.42 383.92 L511.95 379.28 L512.42 384.88 L512.89 382.32 L513.45 386.05 L514.02 379.99 L514.48 379.82 L515.03 381.03 L515.59 384.66 L515.95 380.44 L516.24 384.47 L516.8 369.2 L517.36 385.89 L517.89 376.74 L518.31 382.83 L518.67 375.67 L519.05 384.33 L519.69 380.38 L520.19 379.7 L520.78 375.46 L521.15 382.51 L521.76 376.64 L522.37 380.98 L523.01 379.84 L523.62 386.17 L524.21 375.17 L524.72 382.48 L525.28 375.2 L525.81 380.17 L526.21 376.89 L526.8 382.4 L527.26 374.72 L527.72 380.95 L528.15 375.28 L528.57 379.91 L529.12 377.95 L529.66 385.6 L530.21 373.22 L530.68 381.9 L531.25 376.99 L531.63 381.48 L532.18 379.38 L532.66 379.1 L533.02 376.83 L533.6 378.19 L534.1 377.74 L534.62 379.34 L535 372.57 L535.44 385.39 L535.92 381.35 L536.51 382.59 L536.99 377.57 L537.14 379.58 L537.7 369.2 L538.26 382.12 L538.53 380.8 L539 373.57 L539.52 384.45 L540.02 378.92 L540.59 380.46 L541.14 381.38 L541.7 379.2 L542.25 378.55 L542.83 383.77 L543.45 381.49 L543.87 381.86 L544.23 381.6 L544.61 381.42 L545.15 376.83 L545.55 382.1 L545.97 377.4 L546.53 380.39 L547.02 378.66 L547.52 384.7 L548.14 381.55 L548.54 382.02 L548.93 379.31 L549.4 385.13 L549.89 380.19 L550.25 383.16 L550.72 380.51 L551.11 378.81 L551.66 376.34 L552.14 381.47 L552.79 378.86 L553.39 385.09 L553.99 377.47 L554.43 382.45 L555.05 381.08 L555.54 385.67 L556.12 374.29 L556.66 384.77 L557.03 377.07 L557.57 382.47 L558.08 374.83 L558.51 385.39 L558.96 377.99 L559.49 380.74 L559.96 378.26 L560.57 385.21 L560.98 378.29 L561.55 385.64 L562.06 379.35 L562.61 383.87 L563.22 382.16 L563.87 379.68 L564.44 377.58 L564.87 379.54 L565.49 381.53 L566 382.63 L566.41 381.81 L566.99 380.15 L567.51 382.37 L567.94 381.75 L568.4 377.69 L568.79 383.69 L569.21 380.05 L569.7 385.32 L570.27 381.45 L570.67 385.01 L571.25 377.45 L571.6 380.03 L572.18 382.49 L572.55 381.21 L573.02 376.24 L573.57 385.65 L574.17 377.28 L574.79 385.23 L575.19 382.07 L575.82 385.93 L576.39 381.99 L576.9 380.3 L577.46 380.09 L577.85 381.27 L578.47 382.83 L578.83 380.7 L579.39 379.15 L580 383.61 L580.57 377.92 L581.15 382.18 L581.63 380.77 L582.08 382.57 L582.56 378.44 L582.96 382.06 L583.64 385.88 L583.84 384.04 L584.2 366.8 L584.4 367 L584.76 383.9 L584.96 386.12 L585.26 384.1 L585.75 382.53 L586.25 383.28 L586.82 380.34 L587.28 382.19 L587.73 383.51 L588.12 383.17 L588.44 385.14 L588.74 386.03 L589 371.6 L589.3 371.4 L589.56 385.95 L589.86 383.56 L590.49 384.79 L590.92 385.99 L591.24 387.29 L591.74 387.06 L591.8 373.5 L592.3 374.3 L592.36 386.45 L592.86 385.36 L593.05 384.47 L593.6 384.23 L594.23 384.26 L594.8 384.05 L595.19 383.83 L595.71 383.66 L596.16 386.04 L596.56 383.67 L597.07 386.99 L597.63 381.85 L598.15 384.27 L598.66 384.39 L599.22 383.96 L599.73 382.61 L600.23 385.93 L600.73 384.99 L601.17 385.97 L601.59 383.04 L602.13 384.93 L602.72 383.87 L603.1 387.25 L603.46 383.71 L604.01 384.69 L604.57 384.8 L605.21 385.83 L605.81 386.28 L606.31 385.1 L606.76 385.77 L607.11 386.95 L607.62 385.57 L608.08 387.95 L608.46 384.58 L608.9 386.77 L609.32 384.53 L609.8 387.94 L610.16 384.26 L610.56 387.31 L611.14 383.49 L611.72 387.85 L612.21 385.34 L612.8 388.01 L613.22 385.73 L613.59 386.33 L614.21 385.54 L614.72 386.62 L615.21 383.82 L615.73 388.11 L616.11 383.9 L616.65 387.78 L617.13 384.11 L617.67 387.33 L618.09 386.26 L618.61 387.73 L619.03 385.02 L619.58 387.42 L620.18 386.71 L620.75 385.64 L621.24 385.99 L621.82 386.52 L622.19 385.8 L622.6 387.1 L623.01 386.64 L623.37 387.24 L623.99 386.06 L624.38 387.24 L624.98 386.07 L625.6 387.97 L626.07 384.82 L626.62 387.15 L627.22 385.71 L627.78 386.34 L628.36 386.82 L628.95 387.96 L629.51 385.17 L629.95 386.78 L630.39 386.23 L630.85 387.72 L631.47 387.26 L631.82 387.64 L632.34 385.97 L632.91 388.3 L633.34 386.5 L633.73 387.3 L634.19 386.96 L634.81 388.32 L635.32 386.76 L635.87 387.61 L636.26 385.83 L636.89 387.76 L637.28 386.08 L637.67 386.77 L638.13 385.99 L638.49 387.6 L639.12 386.41 L639.59 387.4 L640.02 386.18 L640.42 387.52 L641.05 386.28 L641.66 387.68 L642.2 386.55 L642.67 388.49 L643.2 385.97 L643.64 387.5 L644.16 386.37 L644.59 387.33 L645.24 387.13 L645.85 388.55 L646.24 386.74 L646.81 387.74 L647.32 386.95 L647.86 387.13 L648.22 386.25 L648.58 387.41 L648.94 385.93 L649.49 387.2 L650.06 386.58 L650.66 387.93 L651.27 386.62 L651.74 388.68 L652.3 386.65 L652.91 388.3 L653.45 385.89 L654.07 387.11 L654.43 386.52 L654.83 387.38 L655.33 386.86 L655.88 388.6 L656.44 387.57 L656.92 387.24 L657.48 387.84 L657.89 388.14 L658.35 387.83 L658.71 387.9 L659.17 386.68 L659.74 387.01 L660.17 387.83 L660.66 387.05 L661.2 387.26 L661.83 388.7 L662.46 386.55 L662.91 388.37 L663.36 386.78 L663.72 387.46 L664.11 386.79 L664.67 387.46 L665.11 386.28 L665.58 388.2 L666.11 387.33 L666.62 388.41 L667.21 387.7 L667.56 388.85 L668.06 387.99 L668.44 388.37 L669 376 L669.56 388.13 L669.95 387.5 L670.48 388.43 L670.85 387.98 L671.42 387.26 L671.94 386.88 L672.36 388.34 L673.01 386.38 L673.6 388.92 L673.98 387.92 L674.33 387.86 L674.69 386.68 L675.09 388.29 L675.57 388.07 L676.15 387.46 L676.52 386.89 L677.11 388.73 L677.71 387.93 L678.28 388.33 L678.89 387.87" stroke="#1a85ff" stroke-width="1.2" fill="none" stroke-linejoin="round" opacity="1.0"/>
<path d="M378.18 381.96 L378.9 366.1 L379.62 385.59 L379.89 382.19 L380.28 375.08 L380.76 379.69 L381.38 381.47 L382.1 358.9 L382.82 381.14 L383.04 379.9 L383.56 383.24 L384.1 381.42 L384.56 384.07 L384.98 382.83 L385.7 368 L386.42 384.78 L386.99 378.79 L387.4 379.39 L387.84 380.19 L388.25 378.88 L388.63 373.94 L389.06 382.58 L389.66 376.3 L390.12 380.3 L390.56 379.9 L391.08 380.06 L391.46 379.96 L392.02 384.65 L392.44 378.06 L393.07 382.76 L393.7 375.03 L394.34 378.46 L394.82 373.89 L395.41 383.52 L396.05 380.16 L396.69 382.34 L397.34 379.72 L397.79 385.83 L398.25 375.29 L398.63 381.77 L399.03 381.21 L399.67 379.78 L400.05 377.99 L400.45 382.4 L401.05 375.8 L401.52 385.25 L402.01 376.52 L402.38 384.65 L403.1 356.3 L403.82 383.97 L404.31 378.9 L404.74 380.45 L405.21 379.96 L405.73 382.48 L406.32 374.71 L406.86 380.76 L407.38 380.48 L407.81 385.66 L408.08 379.98 L408.8 365.5 L409.52 384.83 L410.05 376.87 L410.63 379.28 L411.24 375.52 L411.8 379.53 L412.28 377.25 L412.66 383.69 L413.15 379.36 L413.66 382.56 L414.17 376.29 L414.79 378.87 L415.18 385.53 L415.9 365.5 L416.62 380.77 L416.89 380.72 L417.35 376.36 L417.98 380.9 L418.45 377.29 L419.04 381.97 L419.56 376.01 L419.99 378.93 L420.41 376.09 L421.01 382.18 L421.4 377.65 L421.78 382.68 L422.27 380.75 L422.69 384.91 L423.12 381.73 L423.66 378.6 L424.25 376.22 L424.71 379.42 L425.31 374.79 L425.88 381.37 L426.44 376.38 L426.81 385.42 L427.36 375.43 L428 385.4 L428.48 381.28 L429.2 360.1 L429.92 381.41 L430.65 380.52 L431.18 382.92 L431.63 375.2 L432.01 384.98 L432.42 377.47 L432.86 383.14 L433.37 380.83 L433.86 381.15 L434.4 379.95 L434.88 380.92 L435.6 348.9 L436.32 381.02 L436.75 380.2 L437.35 378.69 L437.82 379.82 L438.08 383.15 L438.8 361 L439.52 384.29 L440.18 381.6 L440.61 376.69 L441.16 381.84 L441.58 382.94 L442.3 351.2 L443.02 383.39 L443.7 381.83 L444.25 381.74 L444.62 380.76 L445.08 384.27 L445.8 364.2 L446.52 385.08 L447.04 380.55 L447.44 378.96 L447.81 382.97 L448.28 385.96 L449 350.2 L449.72 384.39 L450.27 380.11 L450.8 382.55 L451.21 377.05 L451.48 383.18 L452.2 366.8 L452.92 380.6 L453.24 381.75 L453.6 384.53 L454.12 381.28 L454.52 383.77 L454.88 382.01 L455.6 358.5 L456.32 381.42 L456.77 379.15 L457.15 380.5 L457.71 385.81 L458.25 378.36 L458.69 382.9 L459.33 379.39 L459.95 380.07 L460.52 380.04 L460.89 384.78 L461.38 385.9 L462.1 366.8 L462.82 384.56 L463.5 384.62 L464.04 375.61 L464.63 381.28 L465.16 378.43 L465.78 381.74 L466.38 375.2 L466.83 383.67 L467.36 380.85 L467.78 384.68 L468.08 381.12 L468.8 371.2 L469.52 382.33 L469.88 382.46 L470.47 378.55 L470.98 383.11 L471.61 380.64 L472.21 380.67 L472.74 380.81 L473.31 385.8 L473.93 375.63 L474.44 381.37 L474.85 378.42 L475.08 382.85 L475.8 375 L476.52 384.03 L476.82 375.9 L477.34 380.56 L477.7 379.13 L478.35 384.5 L478.92 375.87 L479.43 383.47 L480.01 378.07 L480.38 385.63 L480.81 380.24 L481.3 384.53 L481.75 375.46 L482.23 382.32 L482.81 377.78 L483.36 381.56 L483.93 376.09 L484.55 385.76 L484.91 381.15 L485.49 383.91 L485.87 380.23 L486.45 383.42 L487.09 381.82 L487.63 385.63 L488.02 377.05 L488.53 382.67 L489.17 379.54 L489.71 383.4 L490.34 377.82 L490.91 383.25 L491.38 377.38 L491.78 378.93 L492.23 377.11 L492.78 386.04 L493.5 365 L494.22 382.43 L494.63 383.34 L495.05 382.14 L495.53 385.36 L495.95 375.64 L496.49 383.95 L496.92 381.73 L497.56 383.91 L498.2 382.15 L498.6 384.23 L499.17 380.32 L499.62 382.87 L500.15 381.17 L500.51 381.59 L500.96 380.63 L501.48 385.43 L502.2 375 L502.92 384.63 L503.22 380.92 L503.74 379.88 L504.22 383.97 L504.76 380.56 L505.34 385.26 L505.91 375.74 L506.41 384.14 L507 379.25 L507.6 384.51 L508.11 378.31 L508.48 381.48 L509.05 380.53 L509.28 383.89 L509.48 384.77 L510 368 L510.2 358.2 L510.72 381.94 L510.92 381.31 L511.5 377.81 L512.15 377.15 L512.73 384.07 L513.15 376.37 L513.55 382.2 L514.03 378.74 L514.58 384.04 L515.3 375 L516.02 378.48 L516.57 378.13 L516.99 376.82 L517.43 377.78 L517.8 372.04 L518.21 384.9 L518.57 375.58 L518.99 382.92 L519.28 385.03 L520 367 L520.72 381.78 L521.25 378.6 L521.68 383.34 L522.07 370.13 L522.48 375.8 L522.9 370.43 L523.28 384.16 L523.79 374.19 L524.29 383.67 L524.66 368.94 L525.21 374.49 L525.71 375.32 L526.31 374.23 L526.78 371.51 L527.31 374.43 L527.88 378.91 L528.48 381.14 L529.2 369 L529.92 379.41 L530.57 382.16 L531.02 378.95 L531.55 377.45 L532.14 369.88 L532.56 384.67 L532.93 377.73 L533.4 380.65 L533.95 378.16 L534.37 374.92 L534.78 383.68 L535.5 356.6 L536.22 381.99 L536.56 368.62 L537.15 384.66 L537.51 377.15 L537.91 382.63 L538.18 383.3 L538.9 358.1 L539.62 383.62 L539.92 383.26 L540.32 378.37 L540.89 385.35 L541.58 380.39 L542.3 353.4 L543.02 380.9 L543.38 373.34 L544.01 381.02 L544.68 382.51 L545.4 355.3 L546.12 383.35 L546.37 373.49 L546.91 385.31 L547.53 372.19 L548.11 384.25 L548.48 382.34 L549.2 349.7 L549.92 380.31 L550.57 370.81 L550.97 375.05 L551.68 381.51 L552.4 340.3 L553.12 381.69 L553.48 376.47 L553.91 378.48 L554.43 379.29 L554.82 378.23 L555.08 380.67 L555.8 340.3 L556.52 380.16 L557.13 375.66 L557.54 381.73 L558.18 378.1 L558.9 352.5 L559.62 378.11 L560.09 370.25 L560.66 376.08 L561.1 376.06 L561.58 378.98 L562.3 344.1 L563.02 378.41 L563.55 379.36 L564.11 377.68 L564.78 380.86 L565.5 361.9 L566.22 385.73 L566.6 375.63 L567.16 376.37 L567.53 385.46 L568.18 381.18 L568.58 380.38 L568.9 362.8 L569.3 363.4 L569.62 385.29 L570.02 385.91 L570.55 383.42 L570.97 373.13 L571.35 378.24 L571.58 383.68 L572.3 367.5 L573.02 385.55 L573.72 377.05 L574.19 379.75 L574.75 379.89 L575.18 378.88 L575.68 383.7 L575.9 364.1 L576.4 364.7 L576.62 385.9 L577.12 385.94 L577.7 378.66 L578.11 382.41 L578.48 385 L579.2 368 L579.92 379.89 L580.55 374.72 L581.01 381.45 L581.57 377.38 L581.78 379.83 L582.5 370 L583.22 386.24 L583.51 379.04 L584.01 381.48 L584.48 379.34 L584.97 378.82 L585.38 374.29 L585.75 381.34 L586.21 377.79 L586.62 380.43 L587.11 376.62 L587.53 382.63 L588.11 375.01 L588.47 382.39 L589.08 379.7 L589.54 386.57 L590.1 381.34 L590.7 379.53 L591.11 381.2 L591.58 386.13 L591.95 382.41 L592.48 382.56 L593.08 379.57 L593.57 381.01 L594.16 376.89 L594.58 383.45 L595.3 362.1 L596.02 385.18 L596.26 382.09 L596.68 380.14 L597.13 380.57 L597.78 385.5 L598.08 387.02 L598.5 362 L598.8 362.1 L599.22 387.22 L599.52 387.2 L600.01 382.16 L600.65 382.26 L601.1 387.37 L601.68 385.09 L602.4 331.5 L603.12 384.11 L603.33 382.67 L603.94 382.06 L604.41 378.97 L604.68 385.65 L605.4 355.1 L606.12 386.16 L606.63 383.43 L607.1 379.59 L607.46 383.18 L607.98 383.4 L608.7 318.6 L609.42 386.74 L609.67 386.01 L610.16 379.24 L610.77 381.78 L611.58 383.14 L612.3 344.5 L613.02 384.91 L613.43 383.68 L613.88 385.15 L614.25 379.01 L614.58 387.07 L615.3 309.1 L616.02 387.27 L616.4 381.63 L616.94 383.57 L617.37 384.37 L617.9 385.22 L618.18 387.23 L618.9 350.4 L619.62 387.24 L620.4 384.25 L620.9 385.81 L621.37 383.33 L621.68 385.54 L622.4 322.1 L623.12 385.41 L623.75 383.52 L624.24 381.82 L624.78 385.74 L625.5 351.5 L626.22 385.9 L626.78 382.58 L627.37 380.45 L627.94 387.17 L628.28 384.76 L629 324.4 L629.72 385.4 L630.08 387.37 L630.45 380.5 L630.99 383.83 L631.58 385.95 L632.3 358.6 L633.02 384.08 L633.55 380.73 L634.09 382.99 L634.51 384.31 L635.08 386.43 L635.8 349.2 L636.52 384.42 L636.81 381.91 L637.26 384.36 L637.68 382.95 L638.18 386.47 L638.9 369.2 L639.62 384.53 L640.03 386.42 L640.5 380.88 L641.08 387.04 L641.47 382.09 L641.68 385.1 L642.4 362.1 L643.12 386.15 L643.49 381.31 L643.95 387.86 L644.35 381.49 L644.94 386.39 L645.28 387.35 L646 373.9 L646.72 388.22 L647.33 382.42 L647.76 386.39 L648.28 387.4 L649 372.7 L649.72 387.6 L649.97 385.53 L650.41 384.69 L650.87 384 L651.29 384.6 L651.58 386.2 L652.3 378.5 L653.02 386.51 L653.7 381.56 L654.25 384.35 L654.64 384.26 L655.08 386.67 L655.8 377 L656.52 388.24 L656.74 381.01 L657.31 387.43 L657.77 384.88 L658.18 387.3 L658.7 385.07 L659.29 387.37 L659.9 382.22 L660.26 384.42 L660.83 383.51 L661.38 387.86 L662.1 382.3 L662.82 384.78 L663.2 386.23 L663.79 381.8 L664.38 386.65 L664.78 387.32 L665.5 382.3 L666.22 387.43 L666.84 383.1 L667.47 384.88 L667.89 383.42 L668.18 388.09 L668.9 380.8 L669.62 388.24 L670.27 385.98 L670.78 384.55 L671.21 383.9 L671.86 383.85 L672.45 386.36 L672.82 381.8 L673.24 388.37 L673.83 382.71 L674.32 388.39 L674.82 382.85 L675.08 386.4 L675.8 378.5 L676.52 386.46 L676.72 384.93 L677.28 385.85 L678 382 L678.72 385.7 L679.18 386.16" stroke="#858585" stroke-width="1.6" fill="none" stroke-linejoin="round" opacity="1.0"/>
<text x="81.9" y="126.7" text-anchor="middle">20</text>
<text x="148.62" y="126.7" text-anchor="middle">40</text>
<text x="215.34" y="126.7" text-anchor="middle">60</text>
<text x="282.06" y="126.7" text-anchor="middle">80</text>
<path d="M35.2 114.1V117.7M35.2 5.4V2.4M41.87 114.1V117.7M41.87 5.4V2.4M48.54 114.1V117.7M48.54 5.4V2.4M55.21 114.1V117.7M55.21 5.4V2.4M61.88 114.1V117.7M61.88 5.4V2.4M68.56 114.1V117.7M68.56 5.4V2.4M75.23 114.1V117.7M75.23 5.4V2.4M81.9 114.1V119.1M81.9 5.4V1.1M88.57 114.1V117.7M88.57 5.4V2.4M95.24 114.1V117.7M95.24 5.4V2.4M101.92 114.1V117.7M101.92 5.4V2.4M108.59 114.1V117.7M108.59 5.4V2.4M115.26 114.1V117.7M115.26 5.4V2.4M121.93 114.1V117.7M121.93 5.4V2.4M128.6 114.1V117.7M128.6 5.4V2.4M135.28 114.1V117.7M135.28 5.4V2.4M141.95 114.1V117.7M141.95 5.4V2.4M148.62 114.1V119.1M148.62 5.4V1.1M155.29 114.1V117.7M155.29 5.4V2.4M161.96 114.1V117.7M161.96 5.4V2.4M168.64 114.1V117.7M168.64 5.4V2.4M175.31 114.1V117.7M175.31 5.4V2.4M181.98 114.1V117.7M181.98 5.4V2.4M188.65 114.1V117.7M188.65 5.4V2.4M195.32 114.1V117.7M195.32 5.4V2.4M202 114.1V117.7M202 5.4V2.4M208.67 114.1V117.7M208.67 5.4V2.4M215.34 114.1V119.1M215.34 5.4V1.1M222.01 114.1V117.7M222.01 5.4V2.4M228.68 114.1V117.7M228.68 5.4V2.4M235.36 114.1V117.7M235.36 5.4V2.4M242.03 114.1V117.7M242.03 5.4V2.4M248.7 114.1V117.7M248.7 5.4V2.4M255.37 114.1V117.7M255.37 5.4V2.4M262.04 114.1V117.7M262.04 5.4V2.4M268.72 114.1V117.7M268.72 5.4V2.4M275.39 114.1V117.7M275.39 5.4V2.4M282.06 114.1V119.1M282.06 5.4V1.1M288.73 114.1V117.7M288.73 5.4V2.4M295.4 114.1V117.7M295.4 5.4V2.4M302.08 114.1V117.7M302.08 5.4V2.4M308.75 114.1V117.7M308.75 5.4V2.4M315.42 114.1V117.7M315.42 5.4V2.4M322.09 114.1V117.7M322.09 5.4V2.4M328.76 114.1V117.7M328.76 5.4V2.4M32 114.1H27.2M334.9 114.1H339.7M32 106.77H28.5M334.9 106.77H338.4M32 99.44H28.5M334.9 99.44H338.4M32 92.11H28.5M334.9 92.11H338.4M32 84.78H28.5M334.9 84.78H338.4M32 77.45H27.2M334.9 77.45H339.7M32 70.12H28.5M334.9 70.12H338.4M32 62.79H28.5M334.9 62.79H338.4M32 55.46H28.5M334.9 55.46H338.4M32 48.13H28.5M334.9 48.13H338.4M32 40.8H27.2M334.9 40.8H339.7M32 33.47H28.5M334.9 33.47H338.4M32 26.14H28.5M334.9 26.14H338.4M32 18.81H28.5M334.9 18.81H338.4M32 11.48H28.5M334.9 11.48H338.4" stroke="#000" stroke-width="1.2" fill="none"/>
<text x="26.2" y="117.2" text-anchor="end">0.0</text>
<text x="26.2" y="80.55" text-anchor="end">0.5</text>
<text x="26.2" y="43.9" text-anchor="end">1.0</text>
<rect x="32" y="5.4" width="302.9" height="108.7" fill="none" stroke="#000" stroke-width="1.8"/>
<text x="336.1" y="137.1" text-anchor="end" style="font-size:9.1px;letter-spacing:0.4px">m/z</text>
<text transform="translate(6.7 59.75) rotate(-90)" text-anchor="middle" style="font-size:8.3px">Intensity (c/s)</text>
<text x="13.4" y="10.9" style="font-size:8.3px">10<tspan dy="-4.3">6</tspan></text>
<text x="385.6" y="126.7" text-anchor="middle">280</text>
<text x="452.32" y="126.7" text-anchor="middle">300</text>
<text x="519.04" y="126.7" text-anchor="middle">320</text>
<text x="585.76" y="126.7" text-anchor="middle">340</text>
<text x="652.48" y="126.7" text-anchor="middle">360</text>
<path d="M378.93 114.1V117.7M378.93 5.4V2.4M385.6 114.1V119.1M385.6 5.4V1.1M392.27 114.1V117.7M392.27 5.4V2.4M398.94 114.1V117.7M398.94 5.4V2.4M405.62 114.1V117.7M405.62 5.4V2.4M412.29 114.1V117.7M412.29 5.4V2.4M418.96 114.1V117.7M418.96 5.4V2.4M425.63 114.1V117.7M425.63 5.4V2.4M432.3 114.1V117.7M432.3 5.4V2.4M438.98 114.1V117.7M438.98 5.4V2.4M445.65 114.1V117.7M445.65 5.4V2.4M452.32 114.1V119.1M452.32 5.4V1.1M458.99 114.1V117.7M458.99 5.4V2.4M465.66 114.1V117.7M465.66 5.4V2.4M472.34 114.1V117.7M472.34 5.4V2.4M479.01 114.1V117.7M479.01 5.4V2.4M485.68 114.1V117.7M485.68 5.4V2.4M492.35 114.1V117.7M492.35 5.4V2.4M499.02 114.1V117.7M499.02 5.4V2.4M505.7 114.1V117.7M505.7 5.4V2.4M512.37 114.1V117.7M512.37 5.4V2.4M519.04 114.1V119.1M519.04 5.4V1.1M525.71 114.1V117.7M525.71 5.4V2.4M532.38 114.1V117.7M532.38 5.4V2.4M539.06 114.1V117.7M539.06 5.4V2.4M545.73 114.1V117.7M545.73 5.4V2.4M552.4 114.1V117.7M552.4 5.4V2.4M559.07 114.1V117.7M559.07 5.4V2.4M565.74 114.1V117.7M565.74 5.4V2.4M572.42 114.1V117.7M572.42 5.4V2.4M579.09 114.1V117.7M579.09 5.4V2.4M585.76 114.1V119.1M585.76 5.4V1.1M592.43 114.1V117.7M592.43 5.4V2.4M599.1 114.1V117.7M599.1 5.4V2.4M605.78 114.1V117.7M605.78 5.4V2.4M612.45 114.1V117.7M612.45 5.4V2.4M619.12 114.1V117.7M619.12 5.4V2.4M625.79 114.1V117.7M625.79 5.4V2.4M632.46 114.1V117.7M632.46 5.4V2.4M639.14 114.1V117.7M639.14 5.4V2.4M645.81 114.1V117.7M645.81 5.4V2.4M652.48 114.1V119.1M652.48 5.4V1.1M659.15 114.1V117.7M659.15 5.4V2.4M665.82 114.1V117.7M665.82 5.4V2.4M672.5 114.1V117.7M672.5 5.4V2.4M679.17 114.1V117.7M679.17 5.4V2.4M377.6 114.1H372.8M680 114.1H684.8M377.6 101.5H374.1M680 101.5H683.5M377.6 88.9H374.1M680 88.9H683.5M377.6 76.3H374.1M680 76.3H683.5M377.6 63.7H374.1M680 63.7H683.5M377.6 51.1H372.8M680 51.1H684.8M377.6 38.5H374.1M680 38.5H683.5M377.6 25.9H374.1M680 25.9H683.5M377.6 13.3H374.1M680 13.3H683.5" stroke="#000" stroke-width="1.2" fill="none"/>
<text x="371.8" y="117.2" text-anchor="end">0</text>
<text x="371.8" y="54.2" text-anchor="end">5</text>
<rect x="377.6" y="5.4" width="302.4" height="108.7" fill="none" stroke="#000" stroke-width="1.8"/>
<text x="681.2" y="137.1" text-anchor="end" style="font-size:9.1px;letter-spacing:0.4px">m/z</text>
<text transform="translate(352.3 59.75) rotate(-90)" text-anchor="middle" style="font-size:8.3px">Intensity (c/s)</text>
<text x="359" y="10.9" style="font-size:8.3px">10<tspan dy="-4.3">2</tspan></text>
<text x="45.8" y="264.9" text-anchor="middle">100</text>
<text x="112.52" y="264.9" text-anchor="middle">120</text>
<text x="179.24" y="264.9" text-anchor="middle">140</text>
<text x="245.96" y="264.9" text-anchor="middle">160</text>
<text x="312.68" y="264.9" text-anchor="middle">180</text>
<path d="M32.46 252.6V256.2M32.46 144.2V141.2M39.13 252.6V256.2M39.13 144.2V141.2M45.8 252.6V257.6M45.8 144.2V139.9M52.47 252.6V256.2M52.47 144.2V141.2M59.14 252.6V256.2M59.14 144.2V141.2M65.82 252.6V256.2M65.82 144.2V141.2M72.49 252.6V256.2M72.49 144.2V141.2M79.16 252.6V256.2M79.16 144.2V141.2M85.83 252.6V256.2M85.83 144.2V141.2M92.5 252.6V256.2M92.5 144.2V141.2M99.18 252.6V256.2M99.18 144.2V141.2M105.85 252.6V256.2M105.85 144.2V141.2M112.52 252.6V257.6M112.52 144.2V139.9M119.19 252.6V256.2M119.19 144.2V141.2M125.86 252.6V256.2M125.86 144.2V141.2M132.54 252.6V256.2M132.54 144.2V141.2M139.21 252.6V256.2M139.21 144.2V141.2M145.88 252.6V256.2M145.88 144.2V141.2M152.55 252.6V256.2M152.55 144.2V141.2M159.22 252.6V256.2M159.22 144.2V141.2M165.9 252.6V256.2M165.9 144.2V141.2M172.57 252.6V256.2M172.57 144.2V141.2M179.24 252.6V257.6M179.24 144.2V139.9M185.91 252.6V256.2M185.91 144.2V141.2M192.58 252.6V256.2M192.58 144.2V141.2M199.26 252.6V256.2M199.26 144.2V141.2M205.93 252.6V256.2M205.93 144.2V141.2M212.6 252.6V256.2M212.6 144.2V141.2M219.27 252.6V256.2M219.27 144.2V141.2M225.94 252.6V256.2M225.94 144.2V141.2M232.62 252.6V256.2M232.62 144.2V141.2M239.29 252.6V256.2M239.29 144.2V141.2M245.96 252.6V257.6M245.96 144.2V139.9M252.63 252.6V256.2M252.63 144.2V141.2M259.3 252.6V256.2M259.3 144.2V141.2M265.98 252.6V256.2M265.98 144.2V141.2M272.65 252.6V256.2M272.65 144.2V141.2M279.32 252.6V256.2M279.32 144.2V141.2M285.99 252.6V256.2M285.99 144.2V141.2M292.66 252.6V256.2M292.66 144.2V141.2M299.34 252.6V256.2M299.34 144.2V141.2M306.01 252.6V256.2M306.01 144.2V141.2M312.68 252.6V257.6M312.68 144.2V139.9M319.35 252.6V256.2M319.35 144.2V141.2M326.02 252.6V256.2M326.02 144.2V141.2M332.7 252.6V256.2M332.7 144.2V141.2M32 252.6H27.2M334.9 252.6H339.7M32 243.84H28.5M334.9 243.84H338.4M32 235.08H28.5M334.9 235.08H338.4M32 226.32H28.5M334.9 226.32H338.4M32 217.56H28.5M334.9 217.56H338.4M32 208.8H27.2M334.9 208.8H339.7M32 200.04H28.5M334.9 200.04H338.4M32 191.28H28.5M334.9 191.28H338.4M32 182.52H28.5M334.9 182.52H338.4M32 173.76H28.5M334.9 173.76H338.4M32 165H27.2M334.9 165H339.7M32 156.24H28.5M334.9 156.24H338.4M32 147.48H28.5M334.9 147.48H338.4" stroke="#000" stroke-width="1.2" fill="none"/>
<text x="26.2" y="255.7" text-anchor="end">0</text>
<text x="26.2" y="211.9" text-anchor="end">1</text>
<text x="26.2" y="168.1" text-anchor="end">2</text>
<rect x="32" y="144.2" width="302.9" height="108.4" fill="none" stroke="#000" stroke-width="1.8"/>
<text x="336.1" y="275.6" text-anchor="end" style="font-size:9.1px;letter-spacing:0.4px">m/z</text>
<text transform="translate(6.7 198.4) rotate(-90)" text-anchor="middle" style="font-size:8.3px">Intensity (c/s)</text>
<text x="13.4" y="149.7" style="font-size:8.3px">10<tspan dy="-4.3">4</tspan></text>
<text x="416.34" y="264.9" text-anchor="middle">380</text>
<text x="483.06" y="264.9" text-anchor="middle">400</text>
<text x="549.78" y="264.9" text-anchor="middle">420</text>
<text x="616.5" y="264.9" text-anchor="middle">440</text>
<path d="M382.98 252.6V256.2M382.98 144.2V141.2M389.65 252.6V256.2M389.65 144.2V141.2M396.32 252.6V256.2M396.32 144.2V141.2M403 252.6V256.2M403 144.2V141.2M409.67 252.6V256.2M409.67 144.2V141.2M416.34 252.6V257.6M416.34 144.2V139.9M423.01 252.6V256.2M423.01 144.2V141.2M429.68 252.6V256.2M429.68 144.2V141.2M436.36 252.6V256.2M436.36 144.2V141.2M443.03 252.6V256.2M443.03 144.2V141.2M449.7 252.6V256.2M449.7 144.2V141.2M456.37 252.6V256.2M456.37 144.2V141.2M463.04 252.6V256.2M463.04 144.2V141.2M469.72 252.6V256.2M469.72 144.2V141.2M476.39 252.6V256.2M476.39 144.2V141.2M483.06 252.6V257.6M483.06 144.2V139.9M489.73 252.6V256.2M489.73 144.2V141.2M496.4 252.6V256.2M496.4 144.2V141.2M503.08 252.6V256.2M503.08 144.2V141.2M509.75 252.6V256.2M509.75 144.2V141.2M516.42 252.6V256.2M516.42 144.2V141.2M523.09 252.6V256.2M523.09 144.2V141.2M529.76 252.6V256.2M529.76 144.2V141.2M536.44 252.6V256.2M536.44 144.2V141.2M543.11 252.6V256.2M543.11 144.2V141.2M549.78 252.6V257.6M549.78 144.2V139.9M556.45 252.6V256.2M556.45 144.2V141.2M563.12 252.6V256.2M563.12 144.2V141.2M569.8 252.6V256.2M569.8 144.2V141.2M576.47 252.6V256.2M576.47 144.2V141.2M583.14 252.6V256.2M583.14 144.2V141.2M589.81 252.6V256.2M589.81 144.2V141.2M596.48 252.6V256.2M596.48 144.2V141.2M603.16 252.6V256.2M603.16 144.2V141.2M609.83 252.6V256.2M609.83 144.2V141.2M616.5 252.6V257.6M616.5 144.2V139.9M623.17 252.6V256.2M623.17 144.2V141.2M629.84 252.6V256.2M629.84 144.2V141.2M636.52 252.6V256.2M636.52 144.2V141.2M643.19 252.6V256.2M643.19 144.2V141.2M649.86 252.6V256.2M649.86 144.2V141.2M656.53 252.6V256.2M656.53 144.2V141.2M663.2 252.6V256.2M663.2 144.2V141.2M669.88 252.6V256.2M669.88 144.2V141.2M676.55 252.6V256.2M676.55 144.2V141.2M377.6 252.6H372.8M680 252.6H684.8M377.6 245.94H374.1M680 245.94H683.5M377.6 239.28H374.1M680 239.28H683.5M377.6 232.62H374.1M680 232.62H683.5M377.6 225.96H374.1M680 225.96H683.5M377.6 219.3H372.8M680 219.3H684.8M377.6 212.64H374.1M680 212.64H683.5M377.6 205.98H374.1M680 205.98H683.5M377.6 199.32H374.1M680 199.32H683.5M377.6 192.66H374.1M680 192.66H683.5M377.6 186H372.8M680 186H684.8M377.6 179.34H374.1M680 179.34H683.5M377.6 172.68H374.1M680 172.68H683.5M377.6 166.02H374.1M680 166.02H683.5M377.6 159.36H374.1M680 159.36H683.5M377.6 152.7H372.8M680 152.7H684.8M377.6 146.04H374.1M680 146.04H683.5" stroke="#000" stroke-width="1.2" fill="none"/>
<text x="371.8" y="255.7" text-anchor="end">0</text>
<text x="371.8" y="222.4" text-anchor="end">1</text>
<text x="371.8" y="189.1" text-anchor="end">2</text>
<text x="371.8" y="155.8" text-anchor="end">3</text>
<rect x="377.6" y="144.2" width="302.4" height="108.4" fill="none" stroke="#000" stroke-width="1.8"/>
<text x="681.2" y="275.6" text-anchor="end" style="font-size:9.1px;letter-spacing:0.4px">m/z</text>
<text transform="translate(352.3 198.4) rotate(-90)" text-anchor="middle" style="font-size:8.3px">Intensity (c/s)</text>
<text x="359" y="149.7" style="font-size:8.3px">10<tspan dy="-4.3">2</tspan></text>
<text x="76.3" y="403.7" text-anchor="middle">200</text>
<text x="143.02" y="403.7" text-anchor="middle">220</text>
<text x="209.74" y="403.7" text-anchor="middle">240</text>
<text x="276.46" y="403.7" text-anchor="middle">260</text>
<path d="M36.27 390.7V394.3M36.27 282.3V279.3M42.94 390.7V394.3M42.94 282.3V279.3M49.61 390.7V394.3M49.61 282.3V279.3M56.28 390.7V394.3M56.28 282.3V279.3M62.96 390.7V394.3M62.96 282.3V279.3M69.63 390.7V394.3M69.63 282.3V279.3M76.3 390.7V395.7M76.3 282.3V278M82.97 390.7V394.3M82.97 282.3V279.3M89.64 390.7V394.3M89.64 282.3V279.3M96.32 390.7V394.3M96.32 282.3V279.3M102.99 390.7V394.3M102.99 282.3V279.3M109.66 390.7V394.3M109.66 282.3V279.3M116.33 390.7V394.3M116.33 282.3V279.3M123 390.7V394.3M123 282.3V279.3M129.68 390.7V394.3M129.68 282.3V279.3M136.35 390.7V394.3M136.35 282.3V279.3M143.02 390.7V395.7M143.02 282.3V278M149.69 390.7V394.3M149.69 282.3V279.3M156.36 390.7V394.3M156.36 282.3V279.3M163.04 390.7V394.3M163.04 282.3V279.3M169.71 390.7V394.3M169.71 282.3V279.3M176.38 390.7V394.3M176.38 282.3V279.3M183.05 390.7V394.3M183.05 282.3V279.3M189.72 390.7V394.3M189.72 282.3V279.3M196.4 390.7V394.3M196.4 282.3V279.3M203.07 390.7V394.3M203.07 282.3V279.3M209.74 390.7V395.7M209.74 282.3V278M216.41 390.7V394.3M216.41 282.3V279.3M223.08 390.7V394.3M223.08 282.3V279.3M229.76 390.7V394.3M229.76 282.3V279.3M236.43 390.7V394.3M236.43 282.3V279.3M243.1 390.7V394.3M243.1 282.3V279.3M249.77 390.7V394.3M249.77 282.3V279.3M256.44 390.7V394.3M256.44 282.3V279.3M263.12 390.7V394.3M263.12 282.3V279.3M269.79 390.7V394.3M269.79 282.3V279.3M276.46 390.7V395.7M276.46 282.3V278M283.13 390.7V394.3M283.13 282.3V279.3M289.8 390.7V394.3M289.8 282.3V279.3M296.48 390.7V394.3M296.48 282.3V279.3M303.15 390.7V394.3M303.15 282.3V279.3M309.82 390.7V394.3M309.82 282.3V279.3M316.49 390.7V394.3M316.49 282.3V279.3M323.16 390.7V394.3M323.16 282.3V279.3M329.84 390.7V394.3M329.84 282.3V279.3M32 390.7H27.2M334.9 390.7H339.7M32 384.68H28.5M334.9 384.68H338.4M32 378.66H28.5M334.9 378.66H338.4M32 372.64H28.5M334.9 372.64H338.4M32 366.62H28.5M334.9 366.62H338.4M32 360.6H27.2M334.9 360.6H339.7M32 354.58H28.5M334.9 354.58H338.4M32 348.56H28.5M334.9 348.56H338.4M32 342.54H28.5M334.9 342.54H338.4M32 336.52H28.5M334.9 336.52H338.4M32 330.5H27.2M334.9 330.5H339.7M32 324.48H28.5M334.9 324.48H338.4M32 318.46H28.5M334.9 318.46H338.4M32 312.44H28.5M334.9 312.44H338.4M32 306.42H28.5M334.9 306.42H338.4M32 300.4H27.2M334.9 300.4H339.7M32 294.38H28.5M334.9 294.38H338.4M32 288.36H28.5M334.9 288.36H338.4M32 282.34H28.5M334.9 282.34H338.4" stroke="#000" stroke-width="1.2" fill="none"/>
<text x="26.2" y="393.8" text-anchor="end">0</text>
<text x="26.2" y="363.7" text-anchor="end">1</text>
<text x="26.2" y="333.6" text-anchor="end">2</text>
<text x="26.2" y="303.5" text-anchor="end">3</text>
<rect x="32" y="282.3" width="302.9" height="108.4" fill="none" stroke="#000" stroke-width="1.8"/>
<text x="336.1" y="413.7" text-anchor="end" style="font-size:9.1px;letter-spacing:0.4px">m/z</text>
<text transform="translate(6.7 336.5) rotate(-90)" text-anchor="middle" style="font-size:8.3px">Intensity (c/s)</text>
<text x="13.4" y="287.8" style="font-size:8.3px">10<tspan dy="-4.3">3</tspan></text>
<text x="380.1" y="403.7" text-anchor="middle">460</text>
<text x="446.82" y="403.7" text-anchor="middle">480</text>
<text x="513.54" y="403.7" text-anchor="middle">500</text>
<text x="580.26" y="403.7" text-anchor="middle">520</text>
<text x="646.98" y="403.7" text-anchor="middle">540</text>
<path d="M380.1 390.7V395.7M380.1 282.3V278M386.77 390.7V394.3M386.77 282.3V279.3M393.44 390.7V394.3M393.44 282.3V279.3M400.12 390.7V394.3M400.12 282.3V279.3M406.79 390.7V394.3M406.79 282.3V279.3M413.46 390.7V394.3M413.46 282.3V279.3M420.13 390.7V394.3M420.13 282.3V279.3M426.8 390.7V394.3M426.8 282.3V279.3M433.48 390.7V394.3M433.48 282.3V279.3M440.15 390.7V394.3M440.15 282.3V279.3M446.82 390.7V395.7M446.82 282.3V278M453.49 390.7V394.3M453.49 282.3V279.3M460.16 390.7V394.3M460.16 282.3V279.3M466.84 390.7V394.3M466.84 282.3V279.3M473.51 390.7V394.3M473.51 282.3V279.3M480.18 390.7V394.3M480.18 282.3V279.3M486.85 390.7V394.3M486.85 282.3V279.3M493.52 390.7V394.3M493.52 282.3V279.3M500.2 390.7V394.3M500.2 282.3V279.3M506.87 390.7V394.3M506.87 282.3V279.3M513.54 390.7V395.7M513.54 282.3V278M520.21 390.7V394.3M520.21 282.3V279.3M526.88 390.7V394.3M526.88 282.3V279.3M533.56 390.7V394.3M533.56 282.3V279.3M540.23 390.7V394.3M540.23 282.3V279.3M546.9 390.7V394.3M546.9 282.3V279.3M553.57 390.7V394.3M553.57 282.3V279.3M560.24 390.7V394.3M560.24 282.3V279.3M566.92 390.7V394.3M566.92 282.3V279.3M573.59 390.7V394.3M573.59 282.3V279.3M580.26 390.7V395.7M580.26 282.3V278M586.93 390.7V394.3M586.93 282.3V279.3M593.6 390.7V394.3M593.6 282.3V279.3M600.28 390.7V394.3M600.28 282.3V279.3M606.95 390.7V394.3M606.95 282.3V279.3M613.62 390.7V394.3M613.62 282.3V279.3M620.29 390.7V394.3M620.29 282.3V279.3M626.96 390.7V394.3M626.96 282.3V279.3M633.64 390.7V394.3M633.64 282.3V279.3M640.31 390.7V394.3M640.31 282.3V279.3M646.98 390.7V395.7M646.98 282.3V278M653.65 390.7V394.3M653.65 282.3V279.3M660.32 390.7V394.3M660.32 282.3V279.3M667 390.7V394.3M667 282.3V279.3M673.67 390.7V394.3M673.67 282.3V279.3M377.6 390.7H372.8M680 390.7H684.8M377.6 378.99H374.1M680 378.99H683.5M377.6 367.28H374.1M680 367.28H683.5M377.6 355.57H374.1M680 355.57H683.5M377.6 343.86H374.1M680 343.86H683.5M377.6 332.15H372.8M680 332.15H684.8M377.6 320.44H374.1M680 320.44H683.5M377.6 308.73H374.1M680 308.73H683.5M377.6 297.02H374.1M680 297.02H683.5M377.6 285.31H374.1M680 285.31H683.5" stroke="#000" stroke-width="1.2" fill="none"/>
<text x="371.8" y="393.8" text-anchor="end">0</text>
<text x="371.8" y="335.25" text-anchor="end">50</text>
<rect x="377.6" y="282.3" width="302.4" height="108.4" fill="none" stroke="#000" stroke-width="1.8"/>
<text x="681.2" y="413.7" text-anchor="end" style="font-size:9.1px;letter-spacing:0.4px">m/z</text>
<text transform="translate(352.3 336.5) rotate(-90)" text-anchor="middle" style="font-size:8.3px">Intensity (c/s)</text>
<path d="M225.5 95.4L225.5 113.1M255.4 96L255.4 113.1M259 96L259 113.1M295.7 96L308.7 111.8M304.8 94.1L311.5 112M310.4 93.4L313.7 112M318.7 94.9L315.3 111.8M85.3 232.8L85.3 249.8M172.3 229.8L172.3 246.8M175.7 207.5L175.7 209.5M232.2 232.2L232.2 249.5M229.1 369.8L229.1 386.5M279 351.1L285.5 365.5M289.3 361L289.3 377.6M294.2 349.8L292.5 366.7M306 357.7L299.1 373.2M398.4 66.2L398.4 82.9M408.3 38L408.3 53.2M412.5 197.8L425 211.5M428.4 207.2L428.4 223.6M432 165.3L432.3 175.5M435.8 193.5L435.8 209.5M501.6 199.6L505.1 215.3M508.4 214.9L508.4 230.2M516.5 199.6L512.4 213.9M527.3 340.6L535.7 355.7M538.7 341.1L538.7 357.5M543 322.3L543 352.5M546 343.7L546 354M549.1 316L549.1 347M553 334.2L553 340M559 325.5L555.7 340.5M565.7 343.5L565.7 361M596.5 305L608.4 318.3M612.3 325.4L612.3 341M625.9 305L615.5 308.9" stroke="#111" stroke-width="1.2" fill="none"/>
<text class="pl" transform="translate(57.64 105.4) rotate(-90) scale(0.94 1)">12.0</text>
<text class="pl" transform="translate(80.94 61.1) rotate(-90) scale(0.94 1)">19.0</text>
<text class="pl" transform="translate(123.74 111.2) rotate(-90) scale(0.94 1)">32.0</text>
<text class="pl" transform="translate(133.74 111.2) rotate(-90) scale(0.94 1)">35.0</text>
<text class="pl" transform="translate(227.94 94.1) rotate(-90) scale(0.94 1)">63.0</text>
<text class="pl" transform="translate(255.54 95) rotate(-90) scale(0.94 1)">71.9</text>
<text class="pl" transform="translate(263.94 94.8) rotate(-90) scale(0.94 1)">72.9</text>
<text class="pl" transform="translate(281.14 110.1) rotate(-90) scale(0.94 1)">79.0</text>
<text class="pl" transform="translate(297.34 93.5) rotate(-90) scale(0.94 1)">87.9</text>
<text class="pl" transform="translate(306.74 93) rotate(-90) scale(0.94 1)">88.9</text>
<text class="pl" transform="translate(314.04 93) rotate(-90) scale(0.94 1)">89.9</text>
<text class="pl" transform="translate(321.74 93.5) rotate(-90) scale(0.94 1)">90.0</text>
<text class="pl" transform="translate(88.34 231.3) rotate(-90) scale(0.94 1)">111.9</text>
<text class="pl" transform="translate(121.34 224.6) rotate(-90) scale(0.94 1)">121.9</text>
<text class="pl" transform="translate(127.24 233.1) rotate(-90) scale(0.94 1)">122.9</text>
<text class="pl" transform="translate(174.04 229.6) rotate(-90) scale(0.94 1)">137.9</text>
<text class="pl" transform="translate(178.24 207) rotate(-90) scale(0.94 1)">138.9</text>
<text class="pl" transform="translate(181.14 233.9) rotate(-90) scale(0.94 1)">139.9</text>
<text class="pl" transform="translate(187.44 217.9) rotate(-90) scale(0.94 1)">140.9</text>
<text class="pl" transform="translate(235.24 231.5) rotate(-90) scale(0.94 1)">155.9</text>
<text class="pl" transform="translate(244.94 236.1) rotate(-90) scale(0.94 1)">158.9</text>
<text class="pl" transform="translate(253.44 236.1) rotate(-90) scale(0.94 1)">160.9</text>
<text class="pl" transform="translate(232.64 367.8) rotate(-90) scale(0.94 1)">245.8</text>
<text class="pl" transform="translate(281.24 350.6) rotate(-90) scale(0.94 1)">262.8</text>
<text class="pl" transform="translate(290.64 360.4) rotate(-90) scale(0.94 1)">263.8</text>
<text class="pl" transform="translate(296.74 349.5) rotate(-90) scale(0.94 1)">264.8</text>
<text class="pl" transform="translate(299.14 382.5) rotate(-90) scale(0.94 1)">265.8</text>
<text class="pl" transform="translate(309.84 356.3) rotate(-90) scale(0.94 1)">266.8</text>
<text class="pl" transform="translate(397.14 31.8) rotate(-90) scale(0.94 1)">282.8</text>
<text class="pl" transform="translate(404.04 37.2) rotate(-90) scale(0.94 1)">284.8</text>
<text class="pl" transform="translate(411.14 37.7) rotate(-90) scale(0.94 1)">286.8</text>
<text class="pl" transform="translate(401.14 66) rotate(-90) scale(0.94 1)">283.8</text>
<text class="pl" transform="translate(415.94 197.4) rotate(-90) scale(0.94 1)">382.7</text>
<text class="pl" transform="translate(431.24 207) rotate(-90) scale(0.94 1)">383.7</text>
<text class="pl" transform="translate(435.54 164.8) rotate(-90) scale(0.94 1)">384.7</text>
<text class="pl" transform="translate(438.84 193.3) rotate(-90) scale(0.94 1)">385.7</text>
<text class="pl" transform="translate(449.14 170.9) rotate(-90) scale(0.94 1)">388.7</text>
<text class="pl" transform="translate(503.24 198.9) rotate(-90) scale(0.94 1)">406.7</text>
<text class="pl" transform="translate(511.44 214.2) rotate(-90) scale(0.94 1)">407.7</text>
<text class="pl" transform="translate(518.94 198.9) rotate(-90) scale(0.94 1)">408.7</text>
<text class="pl" transform="translate(528.44 339.7) rotate(-90) scale(0.94 1)">506.6</text>
<text class="pl" transform="translate(540.84 340.5) rotate(-90) scale(0.94 1)">507.6</text>
<text class="pl" transform="translate(544.44 321.5) rotate(-90) scale(0.94 1)">508.6</text>
<text class="pl" transform="translate(547.54 343.2) rotate(-90) scale(0.94 1)">509.6</text>
<text class="pl" transform="translate(551.04 315.3) rotate(-90) scale(0.94 1)">510.6</text>
<text class="pl" transform="translate(554.84 333.8) rotate(-90) scale(0.94 1)">511.6</text>
<text class="pl" transform="translate(561.84 325) rotate(-90) scale(0.94 1)">512.6</text>
<text class="pl" transform="translate(568.34 343) rotate(-90) scale(0.94 1)">515.6</text>
<text class="pl" transform="translate(597.34 304.8) rotate(-90) scale(0.94 1)">528.6</text>
<text class="pl" transform="translate(615.74 324.6) rotate(-90) scale(0.94 1)">529.6</text>
<text class="pl" transform="translate(631.64 304.8) rotate(-90) scale(0.94 1)">530.6</text>
<line x1="231.7" x2="250.3" y1="14.0" y2="14.0" stroke="#ff1a1a" stroke-width="1.7"/>
<text class="lg" x="252.3" y="16.5">825 ppm 480 s pH 3.0</text>
<line x1="231.7" x2="250.3" y1="23.8" y2="23.8" stroke="#1a85ff" stroke-width="1.4"/>
<text class="lg" x="252.3" y="26.3">825 ppm &#160;&#160;60 s pH 4.0</text>
<line x1="231.7" x2="250.3" y1="33.4" y2="33.4" stroke="#858585" stroke-width="1.4"/>
<text class="lg" x="252.3" y="35.9">825 ppm 480 s pH 4.0</text>
</svg></body></html>
